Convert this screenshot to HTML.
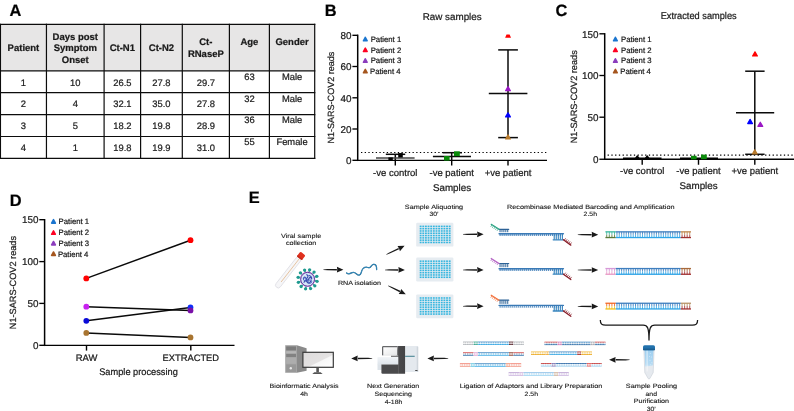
<!DOCTYPE html>
<html><head><meta charset="utf-8"><title>Figure</title>
<style>
html,body{margin:0;padding:0;background:#fff;}
body{width:794px;height:411px;overflow:hidden;font-family:"Liberation Sans", sans-serif;}
svg{display:block;font-family:"Liberation Sans", sans-serif;will-change:transform;opacity:0.999;}
svg text{font-family:"Liberation Sans", sans-serif;fill:#1a1a1a;text-rendering:geometricPrecision;stroke:#1a1a1a;stroke-width:0.22px;}
svg text.e{stroke:#222;stroke-width:0.12px;fill:#222;}
</style></head><body>
<svg width="794" height="411" viewBox="0 0 794 411">
<rect width="794" height="411" fill="#ffffff"/>
<text x="9.6" y="16.3" font-size="16.4" text-anchor="start" font-weight="bold" style="fill:#000">A</text>
<text x="324.8" y="16.0" font-size="16.4" text-anchor="start" font-weight="bold" style="fill:#000">B</text>
<text x="555.6" y="16.0" font-size="16.4" text-anchor="start" font-weight="bold" style="fill:#000">C</text>
<text x="9.8" y="205.8" font-size="16.4" text-anchor="start" font-weight="bold" style="fill:#000">D</text>
<text x="248.8" y="203.0" font-size="16.4" text-anchor="start" font-weight="bold" style="fill:#000">E</text>
<rect x="0.45" y="24.3" width="314.25" height="46.5" fill="#e7e6e6"/>
<line x1="0.45" y1="23.7" x2="0.45" y2="159.0" stroke="#0c0c0c" stroke-width="1.2"/>
<line x1="46.45" y1="23.7" x2="46.45" y2="159.0" stroke="#0c0c0c" stroke-width="1.2"/>
<line x1="104.1" y1="23.7" x2="104.1" y2="159.0" stroke="#0c0c0c" stroke-width="1.2"/>
<line x1="140.6" y1="23.7" x2="140.6" y2="159.0" stroke="#0c0c0c" stroke-width="1.2"/>
<line x1="182.3" y1="23.7" x2="182.3" y2="159.0" stroke="#0c0c0c" stroke-width="1.2"/>
<line x1="229.4" y1="23.7" x2="229.4" y2="159.0" stroke="#0c0c0c" stroke-width="1.2"/>
<line x1="269.4" y1="23.7" x2="269.4" y2="159.0" stroke="#0c0c0c" stroke-width="1.2"/>
<line x1="314.7" y1="23.7" x2="314.7" y2="159.0" stroke="#0c0c0c" stroke-width="1.2"/>
<line x1="-0.14999999999999997" y1="24.3" x2="315.3" y2="24.3" stroke="#0c0c0c" stroke-width="1.2"/>
<line x1="-0.14999999999999997" y1="70.8" x2="315.3" y2="70.8" stroke="#0c0c0c" stroke-width="1.2"/>
<line x1="-0.14999999999999997" y1="92.7" x2="315.3" y2="92.7" stroke="#0c0c0c" stroke-width="1.2"/>
<line x1="-0.14999999999999997" y1="114.6" x2="315.3" y2="114.6" stroke="#0c0c0c" stroke-width="1.2"/>
<line x1="-0.14999999999999997" y1="136.5" x2="315.3" y2="136.5" stroke="#0c0c0c" stroke-width="1.2"/>
<line x1="-0.14999999999999997" y1="158.4" x2="315.3" y2="158.4" stroke="#0c0c0c" stroke-width="1.2"/>
<text x="23.450000000000003" y="51.2" font-size="9.5" text-anchor="middle" font-weight="bold">Patient</text>
<text x="75.275" y="40.3" font-size="9.5" text-anchor="middle" font-weight="bold">Days post</text>
<text x="75.275" y="51.4" font-size="9.5" text-anchor="middle" font-weight="bold">Symptom</text>
<text x="75.275" y="62.6" font-size="9.5" text-anchor="middle" font-weight="bold">Onset</text>
<text x="122.35" y="51.2" font-size="9.5" text-anchor="middle" font-weight="bold">Ct-N1</text>
<text x="161.45" y="51.2" font-size="9.5" text-anchor="middle" font-weight="bold">Ct-N2</text>
<text x="205.85000000000002" y="45.0" font-size="9.5" text-anchor="middle" font-weight="bold">Ct-</text>
<text x="205.85000000000002" y="56.6" font-size="9.5" text-anchor="middle" font-weight="bold">RNaseP</text>
<text x="249.39999999999998" y="45.0" font-size="9.5" text-anchor="middle" font-weight="bold">Age</text>
<text x="292.04999999999995" y="45.0" font-size="9.5" text-anchor="middle" font-weight="bold">Gender</text>
<text x="23.450000000000003" y="85.5" font-size="9.4" text-anchor="middle">1</text>
<text x="75.275" y="85.5" font-size="9.4" text-anchor="middle">10</text>
<text x="122.35" y="85.5" font-size="9.4" text-anchor="middle">26.5</text>
<text x="161.45" y="85.5" font-size="9.4" text-anchor="middle">27.8</text>
<text x="205.85000000000002" y="85.5" font-size="9.4" text-anchor="middle">29.7</text>
<text x="249.39999999999998" y="79.6" font-size="9.4" text-anchor="middle">63</text>
<text x="292.04999999999995" y="79.6" font-size="9.4" text-anchor="middle">Male</text>
<text x="23.450000000000003" y="107.4" font-size="9.4" text-anchor="middle">2</text>
<text x="75.275" y="107.4" font-size="9.4" text-anchor="middle">4</text>
<text x="122.35" y="107.4" font-size="9.4" text-anchor="middle">32.1</text>
<text x="161.45" y="107.4" font-size="9.4" text-anchor="middle">35.0</text>
<text x="205.85000000000002" y="107.4" font-size="9.4" text-anchor="middle">27.8</text>
<text x="249.39999999999998" y="101.5" font-size="9.4" text-anchor="middle">32</text>
<text x="292.04999999999995" y="101.5" font-size="9.4" text-anchor="middle">Male</text>
<text x="23.450000000000003" y="129.3" font-size="9.4" text-anchor="middle">3</text>
<text x="75.275" y="129.3" font-size="9.4" text-anchor="middle">5</text>
<text x="122.35" y="129.3" font-size="9.4" text-anchor="middle">18.2</text>
<text x="161.45" y="129.3" font-size="9.4" text-anchor="middle">19.8</text>
<text x="205.85000000000002" y="129.3" font-size="9.4" text-anchor="middle">28.9</text>
<text x="249.39999999999998" y="123.4" font-size="9.4" text-anchor="middle">36</text>
<text x="292.04999999999995" y="123.4" font-size="9.4" text-anchor="middle">Male</text>
<text x="23.450000000000003" y="151.2" font-size="9.4" text-anchor="middle">4</text>
<text x="75.275" y="151.2" font-size="9.4" text-anchor="middle">1</text>
<text x="122.35" y="151.2" font-size="9.4" text-anchor="middle">19.8</text>
<text x="161.45" y="151.2" font-size="9.4" text-anchor="middle">19.9</text>
<text x="205.85000000000002" y="151.2" font-size="9.4" text-anchor="middle">31.0</text>
<text x="249.39999999999998" y="145.29999999999998" font-size="9.4" text-anchor="middle">55</text>
<text x="292.04999999999995" y="145.29999999999998" font-size="9.4" text-anchor="middle">Female</text>
<line x1="357.7" y1="34.599999999999994" x2="357.7" y2="161.05" stroke="#000" stroke-width="1.5"/>
<line x1="352.4" y1="35.3" x2="357.7" y2="35.3" stroke="#000" stroke-width="1.35"/>
<text x="351.5" y="39.0" font-size="9.9" text-anchor="end">80</text>
<line x1="352.4" y1="66.5" x2="357.7" y2="66.5" stroke="#000" stroke-width="1.35"/>
<text x="351.5" y="70.2" font-size="9.9" text-anchor="end">60</text>
<line x1="352.4" y1="97.8" x2="357.7" y2="97.8" stroke="#000" stroke-width="1.35"/>
<text x="351.5" y="101.5" font-size="9.9" text-anchor="end">40</text>
<line x1="352.4" y1="129.0" x2="357.7" y2="129.0" stroke="#000" stroke-width="1.35"/>
<text x="351.5" y="132.7" font-size="9.9" text-anchor="end">20</text>
<line x1="352.4" y1="160.3" x2="357.7" y2="160.3" stroke="#000" stroke-width="1.35"/>
<text x="351.5" y="164.0" font-size="9.9" text-anchor="end">0</text>
<line x1="356.95" y1="160.3" x2="547" y2="160.3" stroke="#000" stroke-width="1.35"/>
<text transform="translate(333.6,97.6) rotate(-90)" font-size="9.0" text-anchor="middle" textLength="92" lengthAdjust="spacingAndGlyphs">N1-SARS-COV2 reads</text>
<text x="452.2" y="19.6" font-size="9.8" text-anchor="middle" textLength="59" lengthAdjust="spacingAndGlyphs">Raw samples</text>
<path d="M363.40 40.75 L367.20 40.75 L365.30 37.25 Z" fill="#1a75cf" stroke="#1a75cf" stroke-width="1.5" stroke-linejoin="round"/>
<text x="370.7" y="41.8" font-size="7.8" text-anchor="start" textLength="30.5" lengthAdjust="spacingAndGlyphs">Patient 1</text>
<path d="M363.40 51.55 L367.20 51.55 L365.30 48.05 Z" fill="#ff0022" stroke="#ff0022" stroke-width="1.5" stroke-linejoin="round"/>
<text x="370.7" y="52.6" font-size="7.8" text-anchor="start" textLength="30.5" lengthAdjust="spacingAndGlyphs">Patient 2</text>
<path d="M363.40 62.25 L367.20 62.25 L365.30 58.75 Z" fill="#8b3dbd" stroke="#8b3dbd" stroke-width="1.5" stroke-linejoin="round"/>
<text x="370.7" y="63.3" font-size="7.8" text-anchor="start" textLength="30.5" lengthAdjust="spacingAndGlyphs">Patient 3</text>
<path d="M363.40 72.85 L367.20 72.85 L365.30 69.35 Z" fill="#a5561e" stroke="#a5561e" stroke-width="1.5" stroke-linejoin="round"/>
<text x="370.0" y="73.9" font-size="7.8" text-anchor="start" textLength="30.5" lengthAdjust="spacingAndGlyphs">Patient 4</text>
<line x1="361.0" y1="152.5" x2="547" y2="152.5" stroke="#000" stroke-width="1.2" stroke-dasharray="1.3 2.38"/>
<line x1="395.3" y1="160.3" x2="395.3" y2="165.60000000000002" stroke="#000" stroke-width="1.4"/>
<text x="395.3" y="175.6" font-size="9.5" text-anchor="middle">-ve control</text>
<line x1="451.7" y1="160.3" x2="451.7" y2="165.60000000000002" stroke="#000" stroke-width="1.4"/>
<text x="451.7" y="175.6" font-size="9.5" text-anchor="middle">-ve patient</text>
<line x1="508" y1="160.3" x2="508" y2="165.60000000000002" stroke="#000" stroke-width="1.4"/>
<text x="508" y="175.6" font-size="9.5" text-anchor="middle">+ve patient</text>
<text x="452" y="190.6" font-size="9.8" text-anchor="middle">Samples</text>
<line x1="395.3" y1="154.3" x2="395.3" y2="160" stroke="#0a0a0a" stroke-width="1.5"/>
<line x1="385.8" y1="154.3" x2="405.2" y2="154.3" stroke="#0a0a0a" stroke-width="1.5"/>
<line x1="376" y1="158" x2="414.6" y2="158" stroke="#444" stroke-width="1.4"/>
<rect x="398.2" y="153.1" width="4.6" height="4.4" fill="#000"/>
<rect x="388.4" y="157.4" width="4.4" height="2.8" fill="#000"/>
<line x1="451.7" y1="152.7" x2="451.7" y2="160" stroke="#0a0a0a" stroke-width="1.5"/>
<line x1="442.6" y1="152.7" x2="462" y2="152.7" stroke="#0a0a0a" stroke-width="1.5"/>
<line x1="432.9" y1="156.6" x2="471" y2="156.6" stroke="#0a0a0a" stroke-width="1.5"/>
<rect x="454" y="151.3" width="5.8" height="4.8" fill="#0a8a0a"/>
<rect x="444" y="156.0" width="5.6" height="4.6" fill="#0a8a0a"/>
<line x1="508" y1="49.9" x2="508" y2="137.6" stroke="#0a0a0a" stroke-width="1.5"/>
<line x1="498.2" y1="49.9" x2="517.9" y2="49.9" stroke="#0a0a0a" stroke-width="1.5"/>
<line x1="488.8" y1="93.6" x2="527.4" y2="93.6" stroke="#0a0a0a" stroke-width="1.5"/>
<line x1="498.2" y1="137.6" x2="517.9" y2="137.6" stroke="#0a0a0a" stroke-width="1.5"/>
<path d="M505.1 37.8 L511 37.8 L509.6 34.6 L506.5 34.6 Z" fill="#ff0000"/>
<path d="M505.60 90.70 L510.40 90.70 L508.00 86.50 Z" fill="#9a18c4" stroke="#9a18c4" stroke-width="1.2" stroke-linejoin="round"/>
<path d="M505.60 116.90 L510.40 116.90 L508.00 112.70 Z" fill="#0000ff" stroke="#0000ff" stroke-width="1.2" stroke-linejoin="round"/>
<path d="M505.60 139.00 L510.40 139.00 L508.00 134.80 Z" fill="#b87a2c" stroke="#b87a2c" stroke-width="1.2" stroke-linejoin="round"/>
<line x1="604.7" y1="33.099999999999994" x2="604.7" y2="160.0" stroke="#000" stroke-width="1.5"/>
<line x1="599.4000000000001" y1="33.8" x2="604.7" y2="33.8" stroke="#000" stroke-width="1.35"/>
<text x="598.5" y="37.5" font-size="9.9" text-anchor="end">150</text>
<line x1="599.4000000000001" y1="75.5" x2="604.7" y2="75.5" stroke="#000" stroke-width="1.35"/>
<text x="598.5" y="79.2" font-size="9.9" text-anchor="end">100</text>
<line x1="599.4000000000001" y1="117.2" x2="604.7" y2="117.2" stroke="#000" stroke-width="1.35"/>
<text x="598.5" y="120.9" font-size="9.9" text-anchor="end">50</text>
<line x1="599.4000000000001" y1="159.25" x2="604.7" y2="159.25" stroke="#000" stroke-width="1.35"/>
<text x="598.5" y="162.95" font-size="9.9" text-anchor="end">0</text>
<line x1="603.95" y1="159.25" x2="794" y2="159.25" stroke="#000" stroke-width="1.4"/>
<text transform="translate(576.8,96.8) rotate(-90)" font-size="9.1" text-anchor="middle" textLength="93" lengthAdjust="spacingAndGlyphs">N1-SARS-COV2 reads</text>
<text x="698.7" y="19.4" font-size="9.8" text-anchor="middle" textLength="76" lengthAdjust="spacingAndGlyphs">Extracted samples</text>
<path d="M613.50 40.75 L617.30 40.75 L615.40 37.25 Z" fill="#1a75cf" stroke="#1a75cf" stroke-width="1.5" stroke-linejoin="round"/>
<text x="621.0" y="41.8" font-size="7.8" text-anchor="start" textLength="30.5" lengthAdjust="spacingAndGlyphs">Patient 1</text>
<path d="M613.50 51.55 L617.30 51.55 L615.40 48.05 Z" fill="#ff0022" stroke="#ff0022" stroke-width="1.5" stroke-linejoin="round"/>
<text x="621.0" y="52.6" font-size="7.8" text-anchor="start" textLength="30.5" lengthAdjust="spacingAndGlyphs">Patient 2</text>
<path d="M613.50 62.25 L617.30 62.25 L615.40 58.75 Z" fill="#8b3dbd" stroke="#8b3dbd" stroke-width="1.5" stroke-linejoin="round"/>
<text x="621.0" y="63.3" font-size="7.8" text-anchor="start" textLength="30.5" lengthAdjust="spacingAndGlyphs">Patient 3</text>
<path d="M613.50 72.85 L617.30 72.85 L615.40 69.35 Z" fill="#a5561e" stroke="#a5561e" stroke-width="1.5" stroke-linejoin="round"/>
<text x="620.3" y="73.9" font-size="7.8" text-anchor="start" textLength="30.5" lengthAdjust="spacingAndGlyphs">Patient 4</text>
<line x1="607.6" y1="155.2" x2="794" y2="155.2" stroke="#000" stroke-width="1.2" stroke-dasharray="1.3 2.45"/>
<line x1="642.2" y1="159.25" x2="642.2" y2="164.75" stroke="#000" stroke-width="1.4"/>
<text x="642.2" y="173.8" font-size="9.5" text-anchor="middle">-ve control</text>
<line x1="698.5" y1="159.25" x2="698.5" y2="164.75" stroke="#000" stroke-width="1.4"/>
<text x="698.5" y="173.8" font-size="9.5" text-anchor="middle">-ve patient</text>
<line x1="754.8" y1="159.25" x2="754.8" y2="164.75" stroke="#000" stroke-width="1.4"/>
<text x="754.8" y="173.8" font-size="9.5" text-anchor="middle">+ve patient</text>
<text x="698.6" y="188.9" font-size="9.8" text-anchor="middle">Samples</text>
<line x1="623" y1="158.2" x2="661.5" y2="158.2" stroke="#000" stroke-width="1.4"/>
<path d="M635.70 158.10 L638.90 158.10 L637.30 155.90 Z" fill="#000" stroke="#000" stroke-width="1.2" stroke-linejoin="round"/>
<path d="M645.60 158.10 L648.80 158.10 L647.20 155.90 Z" fill="#000" stroke="#000" stroke-width="1.2" stroke-linejoin="round"/>
<line x1="680" y1="158.2" x2="718" y2="158.2" stroke="#000" stroke-width="1.4"/>
<rect x="691" y="155.8" width="5.6" height="3.6" fill="#0a8a0a"/>
<rect x="701" y="154.6" width="5.8" height="4.6" fill="#0a8a0a"/>
<line x1="754.8" y1="71.2" x2="754.8" y2="154.3" stroke="#0a0a0a" stroke-width="1.5"/>
<line x1="745.2" y1="71.2" x2="764.6" y2="71.2" stroke="#0a0a0a" stroke-width="1.5"/>
<line x1="736" y1="112.7" x2="774.2" y2="112.7" stroke="#0a0a0a" stroke-width="1.5"/>
<line x1="745.2" y1="154.3" x2="764.6" y2="154.3" stroke="#0a0a0a" stroke-width="1.5"/>
<path d="M752.60 56.00 L757.40 56.00 L755.00 51.80 Z" fill="#ff0000" stroke="#ff0000" stroke-width="1.2" stroke-linejoin="round"/>
<path d="M747.70 123.60 L752.50 123.60 L750.10 119.40 Z" fill="#0000ff" stroke="#0000ff" stroke-width="1.2" stroke-linejoin="round"/>
<path d="M757.90 126.40 L762.70 126.40 L760.30 122.20 Z" fill="#9a18c4" stroke="#9a18c4" stroke-width="1.2" stroke-linejoin="round"/>
<path d="M752.40 154.00 L757.20 154.00 L754.80 149.80 Z" fill="#b87a2c" stroke="#b87a2c" stroke-width="1.2" stroke-linejoin="round"/>
<line x1="44.6" y1="219.0" x2="44.6" y2="346.05" stroke="#000" stroke-width="1.5"/>
<line x1="39.300000000000004" y1="219.7" x2="44.6" y2="219.7" stroke="#000" stroke-width="1.35"/>
<text x="38.4" y="223.39999999999998" font-size="9.9" text-anchor="end">150</text>
<line x1="39.300000000000004" y1="261.6" x2="44.6" y2="261.6" stroke="#000" stroke-width="1.35"/>
<text x="38.4" y="265.3" font-size="9.9" text-anchor="end">100</text>
<line x1="39.300000000000004" y1="303.4" x2="44.6" y2="303.4" stroke="#000" stroke-width="1.35"/>
<text x="38.4" y="307.09999999999997" font-size="9.9" text-anchor="end">50</text>
<line x1="39.300000000000004" y1="345.3" x2="44.6" y2="345.3" stroke="#000" stroke-width="1.35"/>
<text x="38.4" y="349.0" font-size="9.9" text-anchor="end">0</text>
<line x1="43.85" y1="345.3" x2="234.5" y2="345.3" stroke="#000" stroke-width="1.35"/>
<text transform="translate(16.2,282.6) rotate(-90)" font-size="9.1" text-anchor="middle" textLength="93.2" lengthAdjust="spacingAndGlyphs">N1-SARS-COV2 reads</text>
<path d="M51.60 223.15 L55.40 223.15 L53.50 219.65 Z" fill="#1a75cf" stroke="#1a75cf" stroke-width="1.5" stroke-linejoin="round"/>
<text x="58.6" y="224.2" font-size="7.8" text-anchor="start" textLength="30.5" lengthAdjust="spacingAndGlyphs">Patient 1</text>
<path d="M51.60 234.35 L55.40 234.35 L53.50 230.85 Z" fill="#ff0022" stroke="#ff0022" stroke-width="1.5" stroke-linejoin="round"/>
<text x="58.6" y="235.4" font-size="7.8" text-anchor="start" textLength="30.5" lengthAdjust="spacingAndGlyphs">Patient 2</text>
<path d="M51.60 244.95 L55.40 244.95 L53.50 241.45 Z" fill="#8b3dbd" stroke="#8b3dbd" stroke-width="1.5" stroke-linejoin="round"/>
<text x="58.6" y="246.0" font-size="7.8" text-anchor="start" textLength="30.5" lengthAdjust="spacingAndGlyphs">Patient 3</text>
<path d="M51.60 255.45 L55.40 255.45 L53.50 251.95 Z" fill="#a5561e" stroke="#a5561e" stroke-width="1.5" stroke-linejoin="round"/>
<text x="57.9" y="256.5" font-size="7.8" text-anchor="start" textLength="30.5" lengthAdjust="spacingAndGlyphs">Patient 4</text>
<line x1="86.5" y1="345.3" x2="86.5" y2="350.6" stroke="#000" stroke-width="1.4"/>
<text x="86.5" y="361" font-size="9.3" text-anchor="middle" textLength="21.7" lengthAdjust="spacingAndGlyphs">RAW</text>
<line x1="190.8" y1="345.3" x2="190.8" y2="350.6" stroke="#000" stroke-width="1.4"/>
<text x="190.8" y="361" font-size="9.3" text-anchor="middle" textLength="56.6" lengthAdjust="spacingAndGlyphs">EXTRACTED</text>
<text x="138.5" y="375.2" font-size="9.6" text-anchor="middle" textLength="78.6" lengthAdjust="spacingAndGlyphs">Sample processing</text>
<line x1="86.3" y1="278.4" x2="190.5" y2="240.2" stroke="#0a0a0a" stroke-width="1.5"/>
<line x1="86.3" y1="306.7" x2="190.5" y2="310.4" stroke="#0a0a0a" stroke-width="1.5"/>
<line x1="86.3" y1="320.8" x2="190.5" y2="307.5" stroke="#0a0a0a" stroke-width="1.5"/>
<line x1="86.3" y1="332.9" x2="190.5" y2="337.4" stroke="#0a0a0a" stroke-width="1.5"/>
<circle cx="86.3" cy="278.4" r="2.9" fill="#ff0000"/>
<circle cx="86.3" cy="332.9" r="2.9" fill="#a87430"/>
<circle cx="86.3" cy="306.7" r="2.9" fill="#c822f0"/>
<circle cx="86.3" cy="320.8" r="2.9" fill="#0a0ad8"/>
<circle cx="190.5" cy="240.2" r="2.9" fill="#ff0000"/>
<circle cx="190.5" cy="337.4" r="2.9" fill="#a87430"/>
<circle cx="190.5" cy="307.5" r="2.9" fill="#1030f8"/>
<circle cx="190.5" cy="310.4" r="2.9" fill="#7a10a8"/>
<text x="301.1" y="238.0" font-size="6.2" text-anchor="middle" textLength="40.3" lengthAdjust="spacingAndGlyphs" class="e">Viral sample</text>
<text x="301.1" y="244.8" font-size="6.2" text-anchor="middle" textLength="30.4" lengthAdjust="spacingAndGlyphs" class="e">collection</text>
<text x="359.4" y="285.1" font-size="6.2" text-anchor="middle" textLength="43" lengthAdjust="spacingAndGlyphs" class="e">RNA isolation</text>
<text x="434.0" y="209.0" font-size="6.2" text-anchor="middle" textLength="58.3" lengthAdjust="spacingAndGlyphs" class="e">Sample Aliquoting</text>
<text x="434.0" y="216.1" font-size="6.2" text-anchor="middle" textLength="9.2" lengthAdjust="spacingAndGlyphs" class="e">30’</text>
<text x="590.8" y="208.7" font-size="6.2" text-anchor="middle" textLength="167.5" lengthAdjust="spacingAndGlyphs" class="e">Recombinase Mediated Barcoding and Amplification</text>
<text x="590.3" y="215.9" font-size="6.2" text-anchor="middle" textLength="13.42" lengthAdjust="spacingAndGlyphs" class="e">2.5h</text>
<text x="651.5" y="387.9" font-size="6.2" text-anchor="middle" textLength="51.3" lengthAdjust="spacingAndGlyphs" class="e">Sample Pooling</text>
<text x="651.3" y="395.9" font-size="6.2" text-anchor="middle" textLength="11.51" lengthAdjust="spacingAndGlyphs" class="e">and</text>
<text x="651.4" y="403.4" font-size="6.2" text-anchor="middle" textLength="35.4" lengthAdjust="spacingAndGlyphs" class="e">Purification</text>
<text x="651.3" y="411.3" font-size="6.2" text-anchor="middle" textLength="9.2" lengthAdjust="spacingAndGlyphs" class="e">30’</text>
<text x="531.0" y="388.1" font-size="6.2" text-anchor="middle" textLength="142.6" lengthAdjust="spacingAndGlyphs" class="e">Ligation of Adaptors and Library Preparation</text>
<text x="531.3" y="395.5" font-size="6.2" text-anchor="middle" textLength="13.42" lengthAdjust="spacingAndGlyphs" class="e">2.5h</text>
<text x="393.1" y="388.0" font-size="6.2" text-anchor="middle" textLength="52.2" lengthAdjust="spacingAndGlyphs" class="e">Next Generation</text>
<text x="393.2" y="395.7" font-size="6.2" text-anchor="middle" textLength="37.3" lengthAdjust="spacingAndGlyphs" class="e">Sequencing</text>
<text x="393.5" y="403.5" font-size="6.2" text-anchor="middle" textLength="17.64" lengthAdjust="spacingAndGlyphs" class="e">4-18h</text>
<text x="304.1" y="388.1" font-size="6.2" text-anchor="middle" textLength="69" lengthAdjust="spacingAndGlyphs" class="e">Bioinformatic Analysis</text>
<text x="304.0" y="395.6" font-size="6.2" text-anchor="middle" textLength="7.67" lengthAdjust="spacingAndGlyphs" class="e">4h</text>
<path d="M323.40 269.95 L327.40 270.30 L336.90 270.45 L336.90 268.95 L327.40 269.10 L323.40 269.45 Z" fill="#1a1a1a"/>
<path d="M343.40 269.70 L336.90 272.55 L337.25 269.70 L336.90 266.85 Z" fill="#1a1a1a"/>
<path d="M386.51 254.63 L390.27 253.23 L399.04 249.26 L398.40 247.90 L389.76 252.15 L386.29 254.17 Z" fill="#1a1a1a"/>
<path d="M404.60 245.80 L399.94 251.15 L399.04 248.43 L397.51 246.00 Z" fill="#1a1a1a"/>
<path d="M385.00 270.15 L389.00 270.50 L398.40 270.65 L398.40 269.15 L389.00 269.30 L385.00 269.65 Z" fill="#1a1a1a"/>
<path d="M404.90 269.90 L398.40 272.75 L398.75 269.90 L398.40 267.05 Z" fill="#1a1a1a"/>
<path d="M388.09 286.03 L391.54 288.08 L399.62 292.15 L400.27 290.80 L392.06 287.00 L388.31 285.57 Z" fill="#1a1a1a"/>
<path d="M405.80 294.30 L398.71 294.04 L400.26 291.63 L401.19 288.91 Z" fill="#1a1a1a"/>
<path d="M463.00 234.55 L467.00 234.90 L477.10 235.05 L477.10 233.55 L467.00 233.70 L463.00 234.05 Z" fill="#1a1a1a"/>
<path d="M483.60 234.30 L477.10 237.15 L477.45 234.30 L477.10 231.45 Z" fill="#1a1a1a"/>
<path d="M463.00 270.15 L467.00 270.50 L477.10 270.65 L477.10 269.15 L467.00 269.30 L463.00 269.65 Z" fill="#1a1a1a"/>
<path d="M483.60 269.90 L477.10 272.75 L477.45 269.90 L477.10 267.05 Z" fill="#1a1a1a"/>
<path d="M463.00 306.45 L467.00 306.80 L477.10 306.95 L477.10 305.45 L467.00 305.60 L463.00 305.95 Z" fill="#1a1a1a"/>
<path d="M483.60 306.20 L477.10 309.05 L477.45 306.20 L477.10 303.35 Z" fill="#1a1a1a"/>
<path d="M577.80 234.95 L581.80 235.30 L591.70 235.45 L591.70 233.95 L581.80 234.10 L577.80 234.45 Z" fill="#1a1a1a"/>
<path d="M598.20 234.70 L591.70 237.55 L592.05 234.70 L591.70 231.85 Z" fill="#1a1a1a"/>
<path d="M577.80 270.25 L581.80 270.60 L591.70 270.75 L591.70 269.25 L581.80 269.40 L577.80 269.75 Z" fill="#1a1a1a"/>
<path d="M598.20 270.00 L591.70 272.85 L592.05 270.00 L591.70 267.15 Z" fill="#1a1a1a"/>
<path d="M577.80 306.65 L581.80 307.00 L591.70 307.15 L591.70 305.65 L581.80 305.80 L577.80 306.15 Z" fill="#1a1a1a"/>
<path d="M598.20 306.40 L591.70 309.25 L592.05 306.40 L591.70 303.55 Z" fill="#1a1a1a"/>
<path d="M629.60 359.55 L625.60 359.20 L615.60 359.05 L615.60 360.55 L625.60 360.40 L629.60 360.05 Z" fill="#1a1a1a"/>
<path d="M609.10 359.80 L615.60 356.95 L615.25 359.80 L615.60 362.65 Z" fill="#1a1a1a"/>
<path d="M448.20 358.15 L444.20 357.80 L433.90 357.65 L433.90 359.15 L444.20 359.00 L448.20 358.65 Z" fill="#1a1a1a"/>
<path d="M427.40 358.40 L433.90 355.55 L433.55 358.40 L433.90 361.25 Z" fill="#1a1a1a"/>
<path d="M372.20 358.15 L368.20 357.80 L357.70 357.65 L357.70 359.15 L368.20 359.00 L372.20 358.65 Z" fill="#1a1a1a"/>
<path d="M351.20 358.40 L357.70 355.55 L357.35 358.40 L357.70 361.25 Z" fill="#1a1a1a"/>
<g transform="translate(301.2,255.8) rotate(38)">
<rect x="-2.7" y="2" width="5.4" height="38.0" rx="2.7" fill="#f6f6f8" stroke="#dedee3" stroke-width="0.8"/>
<line x1="0.3" y1="3" x2="0.3" y2="33" stroke="#e6c3a0" stroke-width="0.9"/>
<rect x="-3.2" y="-2.9" width="6.4" height="6.0" rx="1.3" fill="#e0301e"/>
<rect x="-3.2" y="1.6" width="6.4" height="1.5" rx="0.6" fill="#c42a1a"/>
</g>
<line x1="314.74" y1="280.82" x2="317.09" y2="281.32" stroke="#1f9a90" stroke-width="1.5"/>
<circle cx="317.09" cy="281.32" r="1.65" fill="#1f9a90"/>
<line x1="313.02" y1="284.18" x2="314.81" y2="285.79" stroke="#1f9a90" stroke-width="1.5"/>
<circle cx="314.81" cy="285.79" r="1.65" fill="#1f9a90"/>
<line x1="309.86" y1="286.24" x2="310.60" y2="288.53" stroke="#1f9a90" stroke-width="1.5"/>
<circle cx="310.60" cy="288.53" r="1.65" fill="#1f9a90"/>
<line x1="306.08" y1="286.44" x2="305.58" y2="288.79" stroke="#1f9a90" stroke-width="1.5"/>
<circle cx="305.58" cy="288.79" r="1.65" fill="#1f9a90"/>
<line x1="302.72" y1="284.72" x2="301.11" y2="286.51" stroke="#1f9a90" stroke-width="1.5"/>
<circle cx="301.11" cy="286.51" r="1.65" fill="#1f9a90"/>
<line x1="300.66" y1="281.56" x2="298.37" y2="282.30" stroke="#1f9a90" stroke-width="1.5"/>
<circle cx="298.37" cy="282.30" r="1.65" fill="#1f9a90"/>
<line x1="300.46" y1="277.78" x2="298.11" y2="277.28" stroke="#1f9a90" stroke-width="1.5"/>
<circle cx="298.11" cy="277.28" r="1.65" fill="#1f9a90"/>
<line x1="302.18" y1="274.42" x2="300.39" y2="272.81" stroke="#1f9a90" stroke-width="1.5"/>
<circle cx="300.39" cy="272.81" r="1.65" fill="#1f9a90"/>
<line x1="305.34" y1="272.36" x2="304.60" y2="270.07" stroke="#1f9a90" stroke-width="1.5"/>
<circle cx="304.60" cy="270.07" r="1.65" fill="#1f9a90"/>
<line x1="309.12" y1="272.16" x2="309.62" y2="269.81" stroke="#1f9a90" stroke-width="1.5"/>
<circle cx="309.62" cy="269.81" r="1.65" fill="#1f9a90"/>
<line x1="312.48" y1="273.88" x2="314.09" y2="272.09" stroke="#1f9a90" stroke-width="1.5"/>
<circle cx="314.09" cy="272.09" r="1.65" fill="#1f9a90"/>
<line x1="314.54" y1="277.04" x2="316.83" y2="276.30" stroke="#1f9a90" stroke-width="1.5"/>
<circle cx="316.83" cy="276.30" r="1.65" fill="#1f9a90"/>
<circle cx="307.6" cy="279.3" r="7.7" fill="#d9a6d6" />
<circle cx="307.6" cy="279.3" r="6.9" fill="#d6e6f8" stroke="#5f319e" stroke-width="1.0"/>
<path d="M303.40000000000003 278.8 q1.2 -3.4 2.8 -0.4 t2.2 1.2 q1.8 -4.2 3.2 -0.6 M304.0 282.3 q2 -3.2 3.6 0 q1.2 2.4 3.2 -1.2 M306.8 274.7 q2.2 1.2 0.2 3.4 q-2.2 2.2 0.8 4.6 M309.1 275.5 q2.5 0.5 2.6 3" fill="none" stroke="#3a4cae" stroke-width="1.15" stroke-linecap="round"/>
<circle cx="310.0" cy="281.6" r="1.7" fill="none" stroke="#4660c0" stroke-width="0.9"/>
<circle cx="304.90000000000003" cy="279.1" r="1.5" fill="none" stroke="#4660c0" stroke-width="0.9"/>
<path d="M346.6 273.0 C348 274.2 350 273.8 351.5 272.9 C353.5 271.7 355 272.6 356.6 274.0 C358.4 275.6 360.4 275.6 361.2 272.6 C362 269.4 363.4 267.4 365.8 267.2 C367.6 267.0 368.6 268.4 370.0 267.4 C371.6 266.2 371.8 264.4 373.6 264.3 C375.6 264.2 376.8 265.6 376.6 269.6" fill="none" stroke="#1c5f88" stroke-width="1.3" stroke-linecap="round"/>
<path d="M346.6 273.0 C348 274.2 350 273.8 351.5 272.9 C353.5 271.7 355 272.6 356.6 274.0 C358.4 275.6 360.4 275.6 361.2 272.6 C362 269.4 363.4 267.4 365.8 267.2 C367.6 267.0 368.6 268.4 370.0 267.4 C371.6 266.2 371.8 264.4 373.6 264.3 C375.6 264.2 376.8 265.6 376.6 269.6" fill="none" stroke="#45a5d8" stroke-width="0.65" stroke-linecap="round"/>
<defs><pattern id="wells" x="419.7" y="225.6" width="2.64" height="2.32" patternUnits="userSpaceOnUse"><rect x="0.25" y="0.25" width="2.0" height="1.7" fill="#2fb4de"/></pattern></defs>
<rect x="416.2" y="222.8" width="37.2" height="23.8" rx="1.2" fill="#e6ecf1"/>
<rect x="419.70" y="225.60" width="1.85" height="1.55" fill="#36b6df"/>
<rect x="422.34" y="225.60" width="1.85" height="1.55" fill="#36b6df"/>
<rect x="424.98" y="225.60" width="1.85" height="1.55" fill="#36b6df"/>
<rect x="427.62" y="225.60" width="1.85" height="1.55" fill="#36b6df"/>
<rect x="430.26" y="225.60" width="1.85" height="1.55" fill="#36b6df"/>
<rect x="432.90" y="225.60" width="1.85" height="1.55" fill="#36b6df"/>
<rect x="435.54" y="225.60" width="1.85" height="1.55" fill="#36b6df"/>
<rect x="438.18" y="225.60" width="1.85" height="1.55" fill="#36b6df"/>
<rect x="440.82" y="225.60" width="1.85" height="1.55" fill="#36b6df"/>
<rect x="443.46" y="225.60" width="1.85" height="1.55" fill="#36b6df"/>
<rect x="446.10" y="225.60" width="1.85" height="1.55" fill="#36b6df"/>
<rect x="448.74" y="225.60" width="1.85" height="1.55" fill="#36b6df"/>
<rect x="419.70" y="227.90" width="1.85" height="1.55" fill="#36b6df"/>
<rect x="422.34" y="227.90" width="1.85" height="1.55" fill="#36b6df"/>
<rect x="424.98" y="227.90" width="1.85" height="1.55" fill="#36b6df"/>
<rect x="427.62" y="227.90" width="1.85" height="1.55" fill="#36b6df"/>
<rect x="430.26" y="227.90" width="1.85" height="1.55" fill="#36b6df"/>
<rect x="432.90" y="227.90" width="1.85" height="1.55" fill="#36b6df"/>
<rect x="435.54" y="227.90" width="1.85" height="1.55" fill="#36b6df"/>
<rect x="438.18" y="227.90" width="1.85" height="1.55" fill="#36b6df"/>
<rect x="440.82" y="227.90" width="1.85" height="1.55" fill="#36b6df"/>
<rect x="443.46" y="227.90" width="1.85" height="1.55" fill="#36b6df"/>
<rect x="446.10" y="227.90" width="1.85" height="1.55" fill="#36b6df"/>
<rect x="448.74" y="227.90" width="1.85" height="1.55" fill="#36b6df"/>
<rect x="419.70" y="230.20" width="1.85" height="1.55" fill="#36b6df"/>
<rect x="422.34" y="230.20" width="1.85" height="1.55" fill="#36b6df"/>
<rect x="424.98" y="230.20" width="1.85" height="1.55" fill="#36b6df"/>
<rect x="427.62" y="230.20" width="1.85" height="1.55" fill="#36b6df"/>
<rect x="430.26" y="230.20" width="1.85" height="1.55" fill="#36b6df"/>
<rect x="432.90" y="230.20" width="1.85" height="1.55" fill="#36b6df"/>
<rect x="435.54" y="230.20" width="1.85" height="1.55" fill="#36b6df"/>
<rect x="438.18" y="230.20" width="1.85" height="1.55" fill="#36b6df"/>
<rect x="440.82" y="230.20" width="1.85" height="1.55" fill="#36b6df"/>
<rect x="443.46" y="230.20" width="1.85" height="1.55" fill="#36b6df"/>
<rect x="446.10" y="230.20" width="1.85" height="1.55" fill="#36b6df"/>
<rect x="448.74" y="230.20" width="1.85" height="1.55" fill="#36b6df"/>
<rect x="419.70" y="232.50" width="1.85" height="1.55" fill="#36b6df"/>
<rect x="422.34" y="232.50" width="1.85" height="1.55" fill="#36b6df"/>
<rect x="424.98" y="232.50" width="1.85" height="1.55" fill="#36b6df"/>
<rect x="427.62" y="232.50" width="1.85" height="1.55" fill="#36b6df"/>
<rect x="430.26" y="232.50" width="1.85" height="1.55" fill="#36b6df"/>
<rect x="432.90" y="232.50" width="1.85" height="1.55" fill="#36b6df"/>
<rect x="435.54" y="232.50" width="1.85" height="1.55" fill="#36b6df"/>
<rect x="438.18" y="232.50" width="1.85" height="1.55" fill="#36b6df"/>
<rect x="440.82" y="232.50" width="1.85" height="1.55" fill="#36b6df"/>
<rect x="443.46" y="232.50" width="1.85" height="1.55" fill="#36b6df"/>
<rect x="446.10" y="232.50" width="1.85" height="1.55" fill="#36b6df"/>
<rect x="448.74" y="232.50" width="1.85" height="1.55" fill="#36b6df"/>
<rect x="419.70" y="234.80" width="1.85" height="1.55" fill="#36b6df"/>
<rect x="422.34" y="234.80" width="1.85" height="1.55" fill="#36b6df"/>
<rect x="424.98" y="234.80" width="1.85" height="1.55" fill="#36b6df"/>
<rect x="427.62" y="234.80" width="1.85" height="1.55" fill="#36b6df"/>
<rect x="430.26" y="234.80" width="1.85" height="1.55" fill="#36b6df"/>
<rect x="432.90" y="234.80" width="1.85" height="1.55" fill="#36b6df"/>
<rect x="435.54" y="234.80" width="1.85" height="1.55" fill="#36b6df"/>
<rect x="438.18" y="234.80" width="1.85" height="1.55" fill="#36b6df"/>
<rect x="440.82" y="234.80" width="1.85" height="1.55" fill="#36b6df"/>
<rect x="443.46" y="234.80" width="1.85" height="1.55" fill="#36b6df"/>
<rect x="446.10" y="234.80" width="1.85" height="1.55" fill="#36b6df"/>
<rect x="448.74" y="234.80" width="1.85" height="1.55" fill="#36b6df"/>
<rect x="419.70" y="237.10" width="1.85" height="1.55" fill="#36b6df"/>
<rect x="422.34" y="237.10" width="1.85" height="1.55" fill="#36b6df"/>
<rect x="424.98" y="237.10" width="1.85" height="1.55" fill="#36b6df"/>
<rect x="427.62" y="237.10" width="1.85" height="1.55" fill="#36b6df"/>
<rect x="430.26" y="237.10" width="1.85" height="1.55" fill="#36b6df"/>
<rect x="432.90" y="237.10" width="1.85" height="1.55" fill="#36b6df"/>
<rect x="435.54" y="237.10" width="1.85" height="1.55" fill="#36b6df"/>
<rect x="438.18" y="237.10" width="1.85" height="1.55" fill="#36b6df"/>
<rect x="440.82" y="237.10" width="1.85" height="1.55" fill="#36b6df"/>
<rect x="443.46" y="237.10" width="1.85" height="1.55" fill="#36b6df"/>
<rect x="446.10" y="237.10" width="1.85" height="1.55" fill="#36b6df"/>
<rect x="448.74" y="237.10" width="1.85" height="1.55" fill="#36b6df"/>
<rect x="419.70" y="239.40" width="1.85" height="1.55" fill="#36b6df"/>
<rect x="422.34" y="239.40" width="1.85" height="1.55" fill="#36b6df"/>
<rect x="424.98" y="239.40" width="1.85" height="1.55" fill="#36b6df"/>
<rect x="427.62" y="239.40" width="1.85" height="1.55" fill="#36b6df"/>
<rect x="430.26" y="239.40" width="1.85" height="1.55" fill="#36b6df"/>
<rect x="432.90" y="239.40" width="1.85" height="1.55" fill="#36b6df"/>
<rect x="435.54" y="239.40" width="1.85" height="1.55" fill="#36b6df"/>
<rect x="438.18" y="239.40" width="1.85" height="1.55" fill="#36b6df"/>
<rect x="440.82" y="239.40" width="1.85" height="1.55" fill="#36b6df"/>
<rect x="443.46" y="239.40" width="1.85" height="1.55" fill="#36b6df"/>
<rect x="446.10" y="239.40" width="1.85" height="1.55" fill="#36b6df"/>
<rect x="448.74" y="239.40" width="1.85" height="1.55" fill="#36b6df"/>
<rect x="419.70" y="241.70" width="1.85" height="1.55" fill="#36b6df"/>
<rect x="422.34" y="241.70" width="1.85" height="1.55" fill="#36b6df"/>
<rect x="424.98" y="241.70" width="1.85" height="1.55" fill="#36b6df"/>
<rect x="427.62" y="241.70" width="1.85" height="1.55" fill="#36b6df"/>
<rect x="430.26" y="241.70" width="1.85" height="1.55" fill="#36b6df"/>
<rect x="432.90" y="241.70" width="1.85" height="1.55" fill="#36b6df"/>
<rect x="435.54" y="241.70" width="1.85" height="1.55" fill="#36b6df"/>
<rect x="438.18" y="241.70" width="1.85" height="1.55" fill="#36b6df"/>
<rect x="440.82" y="241.70" width="1.85" height="1.55" fill="#36b6df"/>
<rect x="443.46" y="241.70" width="1.85" height="1.55" fill="#36b6df"/>
<rect x="446.10" y="241.70" width="1.85" height="1.55" fill="#36b6df"/>
<rect x="448.74" y="241.70" width="1.85" height="1.55" fill="#36b6df"/>
<rect x="416.2" y="257.6" width="37.2" height="23.8" rx="1.2" fill="#e6ecf1"/>
<rect x="419.70" y="260.40" width="1.85" height="1.55" fill="#36b6df"/>
<rect x="422.34" y="260.40" width="1.85" height="1.55" fill="#36b6df"/>
<rect x="424.98" y="260.40" width="1.85" height="1.55" fill="#36b6df"/>
<rect x="427.62" y="260.40" width="1.85" height="1.55" fill="#36b6df"/>
<rect x="430.26" y="260.40" width="1.85" height="1.55" fill="#36b6df"/>
<rect x="432.90" y="260.40" width="1.85" height="1.55" fill="#36b6df"/>
<rect x="435.54" y="260.40" width="1.85" height="1.55" fill="#36b6df"/>
<rect x="438.18" y="260.40" width="1.85" height="1.55" fill="#36b6df"/>
<rect x="440.82" y="260.40" width="1.85" height="1.55" fill="#36b6df"/>
<rect x="443.46" y="260.40" width="1.85" height="1.55" fill="#36b6df"/>
<rect x="446.10" y="260.40" width="1.85" height="1.55" fill="#36b6df"/>
<rect x="448.74" y="260.40" width="1.85" height="1.55" fill="#36b6df"/>
<rect x="419.70" y="262.70" width="1.85" height="1.55" fill="#36b6df"/>
<rect x="422.34" y="262.70" width="1.85" height="1.55" fill="#36b6df"/>
<rect x="424.98" y="262.70" width="1.85" height="1.55" fill="#36b6df"/>
<rect x="427.62" y="262.70" width="1.85" height="1.55" fill="#36b6df"/>
<rect x="430.26" y="262.70" width="1.85" height="1.55" fill="#36b6df"/>
<rect x="432.90" y="262.70" width="1.85" height="1.55" fill="#36b6df"/>
<rect x="435.54" y="262.70" width="1.85" height="1.55" fill="#36b6df"/>
<rect x="438.18" y="262.70" width="1.85" height="1.55" fill="#36b6df"/>
<rect x="440.82" y="262.70" width="1.85" height="1.55" fill="#36b6df"/>
<rect x="443.46" y="262.70" width="1.85" height="1.55" fill="#36b6df"/>
<rect x="446.10" y="262.70" width="1.85" height="1.55" fill="#36b6df"/>
<rect x="448.74" y="262.70" width="1.85" height="1.55" fill="#36b6df"/>
<rect x="419.70" y="265.00" width="1.85" height="1.55" fill="#36b6df"/>
<rect x="422.34" y="265.00" width="1.85" height="1.55" fill="#36b6df"/>
<rect x="424.98" y="265.00" width="1.85" height="1.55" fill="#36b6df"/>
<rect x="427.62" y="265.00" width="1.85" height="1.55" fill="#36b6df"/>
<rect x="430.26" y="265.00" width="1.85" height="1.55" fill="#36b6df"/>
<rect x="432.90" y="265.00" width="1.85" height="1.55" fill="#36b6df"/>
<rect x="435.54" y="265.00" width="1.85" height="1.55" fill="#36b6df"/>
<rect x="438.18" y="265.00" width="1.85" height="1.55" fill="#36b6df"/>
<rect x="440.82" y="265.00" width="1.85" height="1.55" fill="#36b6df"/>
<rect x="443.46" y="265.00" width="1.85" height="1.55" fill="#36b6df"/>
<rect x="446.10" y="265.00" width="1.85" height="1.55" fill="#36b6df"/>
<rect x="448.74" y="265.00" width="1.85" height="1.55" fill="#36b6df"/>
<rect x="419.70" y="267.30" width="1.85" height="1.55" fill="#36b6df"/>
<rect x="422.34" y="267.30" width="1.85" height="1.55" fill="#36b6df"/>
<rect x="424.98" y="267.30" width="1.85" height="1.55" fill="#36b6df"/>
<rect x="427.62" y="267.30" width="1.85" height="1.55" fill="#36b6df"/>
<rect x="430.26" y="267.30" width="1.85" height="1.55" fill="#36b6df"/>
<rect x="432.90" y="267.30" width="1.85" height="1.55" fill="#36b6df"/>
<rect x="435.54" y="267.30" width="1.85" height="1.55" fill="#36b6df"/>
<rect x="438.18" y="267.30" width="1.85" height="1.55" fill="#36b6df"/>
<rect x="440.82" y="267.30" width="1.85" height="1.55" fill="#36b6df"/>
<rect x="443.46" y="267.30" width="1.85" height="1.55" fill="#36b6df"/>
<rect x="446.10" y="267.30" width="1.85" height="1.55" fill="#36b6df"/>
<rect x="448.74" y="267.30" width="1.85" height="1.55" fill="#36b6df"/>
<rect x="419.70" y="269.60" width="1.85" height="1.55" fill="#36b6df"/>
<rect x="422.34" y="269.60" width="1.85" height="1.55" fill="#36b6df"/>
<rect x="424.98" y="269.60" width="1.85" height="1.55" fill="#36b6df"/>
<rect x="427.62" y="269.60" width="1.85" height="1.55" fill="#36b6df"/>
<rect x="430.26" y="269.60" width="1.85" height="1.55" fill="#36b6df"/>
<rect x="432.90" y="269.60" width="1.85" height="1.55" fill="#36b6df"/>
<rect x="435.54" y="269.60" width="1.85" height="1.55" fill="#36b6df"/>
<rect x="438.18" y="269.60" width="1.85" height="1.55" fill="#36b6df"/>
<rect x="440.82" y="269.60" width="1.85" height="1.55" fill="#36b6df"/>
<rect x="443.46" y="269.60" width="1.85" height="1.55" fill="#36b6df"/>
<rect x="446.10" y="269.60" width="1.85" height="1.55" fill="#36b6df"/>
<rect x="448.74" y="269.60" width="1.85" height="1.55" fill="#36b6df"/>
<rect x="419.70" y="271.90" width="1.85" height="1.55" fill="#36b6df"/>
<rect x="422.34" y="271.90" width="1.85" height="1.55" fill="#36b6df"/>
<rect x="424.98" y="271.90" width="1.85" height="1.55" fill="#36b6df"/>
<rect x="427.62" y="271.90" width="1.85" height="1.55" fill="#36b6df"/>
<rect x="430.26" y="271.90" width="1.85" height="1.55" fill="#36b6df"/>
<rect x="432.90" y="271.90" width="1.85" height="1.55" fill="#36b6df"/>
<rect x="435.54" y="271.90" width="1.85" height="1.55" fill="#36b6df"/>
<rect x="438.18" y="271.90" width="1.85" height="1.55" fill="#36b6df"/>
<rect x="440.82" y="271.90" width="1.85" height="1.55" fill="#36b6df"/>
<rect x="443.46" y="271.90" width="1.85" height="1.55" fill="#36b6df"/>
<rect x="446.10" y="271.90" width="1.85" height="1.55" fill="#36b6df"/>
<rect x="448.74" y="271.90" width="1.85" height="1.55" fill="#36b6df"/>
<rect x="419.70" y="274.20" width="1.85" height="1.55" fill="#36b6df"/>
<rect x="422.34" y="274.20" width="1.85" height="1.55" fill="#36b6df"/>
<rect x="424.98" y="274.20" width="1.85" height="1.55" fill="#36b6df"/>
<rect x="427.62" y="274.20" width="1.85" height="1.55" fill="#36b6df"/>
<rect x="430.26" y="274.20" width="1.85" height="1.55" fill="#36b6df"/>
<rect x="432.90" y="274.20" width="1.85" height="1.55" fill="#36b6df"/>
<rect x="435.54" y="274.20" width="1.85" height="1.55" fill="#36b6df"/>
<rect x="438.18" y="274.20" width="1.85" height="1.55" fill="#36b6df"/>
<rect x="440.82" y="274.20" width="1.85" height="1.55" fill="#36b6df"/>
<rect x="443.46" y="274.20" width="1.85" height="1.55" fill="#36b6df"/>
<rect x="446.10" y="274.20" width="1.85" height="1.55" fill="#36b6df"/>
<rect x="448.74" y="274.20" width="1.85" height="1.55" fill="#36b6df"/>
<rect x="419.70" y="276.50" width="1.85" height="1.55" fill="#36b6df"/>
<rect x="422.34" y="276.50" width="1.85" height="1.55" fill="#36b6df"/>
<rect x="424.98" y="276.50" width="1.85" height="1.55" fill="#36b6df"/>
<rect x="427.62" y="276.50" width="1.85" height="1.55" fill="#36b6df"/>
<rect x="430.26" y="276.50" width="1.85" height="1.55" fill="#36b6df"/>
<rect x="432.90" y="276.50" width="1.85" height="1.55" fill="#36b6df"/>
<rect x="435.54" y="276.50" width="1.85" height="1.55" fill="#36b6df"/>
<rect x="438.18" y="276.50" width="1.85" height="1.55" fill="#36b6df"/>
<rect x="440.82" y="276.50" width="1.85" height="1.55" fill="#36b6df"/>
<rect x="443.46" y="276.50" width="1.85" height="1.55" fill="#36b6df"/>
<rect x="446.10" y="276.50" width="1.85" height="1.55" fill="#36b6df"/>
<rect x="448.74" y="276.50" width="1.85" height="1.55" fill="#36b6df"/>
<rect x="416.2" y="294.4" width="37.2" height="23.8" rx="1.2" fill="#e6ecf1"/>
<rect x="419.70" y="297.20" width="1.85" height="1.55" fill="#36b6df"/>
<rect x="422.34" y="297.20" width="1.85" height="1.55" fill="#36b6df"/>
<rect x="424.98" y="297.20" width="1.85" height="1.55" fill="#36b6df"/>
<rect x="427.62" y="297.20" width="1.85" height="1.55" fill="#36b6df"/>
<rect x="430.26" y="297.20" width="1.85" height="1.55" fill="#36b6df"/>
<rect x="432.90" y="297.20" width="1.85" height="1.55" fill="#36b6df"/>
<rect x="435.54" y="297.20" width="1.85" height="1.55" fill="#36b6df"/>
<rect x="438.18" y="297.20" width="1.85" height="1.55" fill="#36b6df"/>
<rect x="440.82" y="297.20" width="1.85" height="1.55" fill="#36b6df"/>
<rect x="443.46" y="297.20" width="1.85" height="1.55" fill="#36b6df"/>
<rect x="446.10" y="297.20" width="1.85" height="1.55" fill="#36b6df"/>
<rect x="448.74" y="297.20" width="1.85" height="1.55" fill="#36b6df"/>
<rect x="419.70" y="299.50" width="1.85" height="1.55" fill="#36b6df"/>
<rect x="422.34" y="299.50" width="1.85" height="1.55" fill="#36b6df"/>
<rect x="424.98" y="299.50" width="1.85" height="1.55" fill="#36b6df"/>
<rect x="427.62" y="299.50" width="1.85" height="1.55" fill="#36b6df"/>
<rect x="430.26" y="299.50" width="1.85" height="1.55" fill="#36b6df"/>
<rect x="432.90" y="299.50" width="1.85" height="1.55" fill="#36b6df"/>
<rect x="435.54" y="299.50" width="1.85" height="1.55" fill="#36b6df"/>
<rect x="438.18" y="299.50" width="1.85" height="1.55" fill="#36b6df"/>
<rect x="440.82" y="299.50" width="1.85" height="1.55" fill="#36b6df"/>
<rect x="443.46" y="299.50" width="1.85" height="1.55" fill="#36b6df"/>
<rect x="446.10" y="299.50" width="1.85" height="1.55" fill="#36b6df"/>
<rect x="448.74" y="299.50" width="1.85" height="1.55" fill="#36b6df"/>
<rect x="419.70" y="301.80" width="1.85" height="1.55" fill="#36b6df"/>
<rect x="422.34" y="301.80" width="1.85" height="1.55" fill="#36b6df"/>
<rect x="424.98" y="301.80" width="1.85" height="1.55" fill="#36b6df"/>
<rect x="427.62" y="301.80" width="1.85" height="1.55" fill="#36b6df"/>
<rect x="430.26" y="301.80" width="1.85" height="1.55" fill="#36b6df"/>
<rect x="432.90" y="301.80" width="1.85" height="1.55" fill="#36b6df"/>
<rect x="435.54" y="301.80" width="1.85" height="1.55" fill="#36b6df"/>
<rect x="438.18" y="301.80" width="1.85" height="1.55" fill="#36b6df"/>
<rect x="440.82" y="301.80" width="1.85" height="1.55" fill="#36b6df"/>
<rect x="443.46" y="301.80" width="1.85" height="1.55" fill="#36b6df"/>
<rect x="446.10" y="301.80" width="1.85" height="1.55" fill="#36b6df"/>
<rect x="448.74" y="301.80" width="1.85" height="1.55" fill="#36b6df"/>
<rect x="419.70" y="304.10" width="1.85" height="1.55" fill="#36b6df"/>
<rect x="422.34" y="304.10" width="1.85" height="1.55" fill="#36b6df"/>
<rect x="424.98" y="304.10" width="1.85" height="1.55" fill="#36b6df"/>
<rect x="427.62" y="304.10" width="1.85" height="1.55" fill="#36b6df"/>
<rect x="430.26" y="304.10" width="1.85" height="1.55" fill="#36b6df"/>
<rect x="432.90" y="304.10" width="1.85" height="1.55" fill="#36b6df"/>
<rect x="435.54" y="304.10" width="1.85" height="1.55" fill="#36b6df"/>
<rect x="438.18" y="304.10" width="1.85" height="1.55" fill="#36b6df"/>
<rect x="440.82" y="304.10" width="1.85" height="1.55" fill="#36b6df"/>
<rect x="443.46" y="304.10" width="1.85" height="1.55" fill="#36b6df"/>
<rect x="446.10" y="304.10" width="1.85" height="1.55" fill="#36b6df"/>
<rect x="448.74" y="304.10" width="1.85" height="1.55" fill="#36b6df"/>
<rect x="419.70" y="306.40" width="1.85" height="1.55" fill="#36b6df"/>
<rect x="422.34" y="306.40" width="1.85" height="1.55" fill="#36b6df"/>
<rect x="424.98" y="306.40" width="1.85" height="1.55" fill="#36b6df"/>
<rect x="427.62" y="306.40" width="1.85" height="1.55" fill="#36b6df"/>
<rect x="430.26" y="306.40" width="1.85" height="1.55" fill="#36b6df"/>
<rect x="432.90" y="306.40" width="1.85" height="1.55" fill="#36b6df"/>
<rect x="435.54" y="306.40" width="1.85" height="1.55" fill="#36b6df"/>
<rect x="438.18" y="306.40" width="1.85" height="1.55" fill="#36b6df"/>
<rect x="440.82" y="306.40" width="1.85" height="1.55" fill="#36b6df"/>
<rect x="443.46" y="306.40" width="1.85" height="1.55" fill="#36b6df"/>
<rect x="446.10" y="306.40" width="1.85" height="1.55" fill="#36b6df"/>
<rect x="448.74" y="306.40" width="1.85" height="1.55" fill="#36b6df"/>
<rect x="419.70" y="308.70" width="1.85" height="1.55" fill="#36b6df"/>
<rect x="422.34" y="308.70" width="1.85" height="1.55" fill="#36b6df"/>
<rect x="424.98" y="308.70" width="1.85" height="1.55" fill="#36b6df"/>
<rect x="427.62" y="308.70" width="1.85" height="1.55" fill="#36b6df"/>
<rect x="430.26" y="308.70" width="1.85" height="1.55" fill="#36b6df"/>
<rect x="432.90" y="308.70" width="1.85" height="1.55" fill="#36b6df"/>
<rect x="435.54" y="308.70" width="1.85" height="1.55" fill="#36b6df"/>
<rect x="438.18" y="308.70" width="1.85" height="1.55" fill="#36b6df"/>
<rect x="440.82" y="308.70" width="1.85" height="1.55" fill="#36b6df"/>
<rect x="443.46" y="308.70" width="1.85" height="1.55" fill="#36b6df"/>
<rect x="446.10" y="308.70" width="1.85" height="1.55" fill="#36b6df"/>
<rect x="448.74" y="308.70" width="1.85" height="1.55" fill="#36b6df"/>
<rect x="419.70" y="311.00" width="1.85" height="1.55" fill="#36b6df"/>
<rect x="422.34" y="311.00" width="1.85" height="1.55" fill="#36b6df"/>
<rect x="424.98" y="311.00" width="1.85" height="1.55" fill="#36b6df"/>
<rect x="427.62" y="311.00" width="1.85" height="1.55" fill="#36b6df"/>
<rect x="430.26" y="311.00" width="1.85" height="1.55" fill="#36b6df"/>
<rect x="432.90" y="311.00" width="1.85" height="1.55" fill="#36b6df"/>
<rect x="435.54" y="311.00" width="1.85" height="1.55" fill="#36b6df"/>
<rect x="438.18" y="311.00" width="1.85" height="1.55" fill="#36b6df"/>
<rect x="440.82" y="311.00" width="1.85" height="1.55" fill="#36b6df"/>
<rect x="443.46" y="311.00" width="1.85" height="1.55" fill="#36b6df"/>
<rect x="446.10" y="311.00" width="1.85" height="1.55" fill="#36b6df"/>
<rect x="448.74" y="311.00" width="1.85" height="1.55" fill="#36b6df"/>
<rect x="419.70" y="313.30" width="1.85" height="1.55" fill="#36b6df"/>
<rect x="422.34" y="313.30" width="1.85" height="1.55" fill="#36b6df"/>
<rect x="424.98" y="313.30" width="1.85" height="1.55" fill="#36b6df"/>
<rect x="427.62" y="313.30" width="1.85" height="1.55" fill="#36b6df"/>
<rect x="430.26" y="313.30" width="1.85" height="1.55" fill="#36b6df"/>
<rect x="432.90" y="313.30" width="1.85" height="1.55" fill="#36b6df"/>
<rect x="435.54" y="313.30" width="1.85" height="1.55" fill="#36b6df"/>
<rect x="438.18" y="313.30" width="1.85" height="1.55" fill="#36b6df"/>
<rect x="440.82" y="313.30" width="1.85" height="1.55" fill="#36b6df"/>
<rect x="443.46" y="313.30" width="1.85" height="1.55" fill="#36b6df"/>
<rect x="446.10" y="313.30" width="1.85" height="1.55" fill="#36b6df"/>
<rect x="448.74" y="313.30" width="1.85" height="1.55" fill="#36b6df"/>
<line x1="500.10" y1="233.70" x2="500.10" y2="236.00" stroke="#3a7ab6" stroke-width="1.0"/>
<line x1="502.11" y1="233.70" x2="502.11" y2="236.00" stroke="#3a7ab6" stroke-width="1.0"/>
<line x1="504.12" y1="233.70" x2="504.12" y2="236.00" stroke="#3a7ab6" stroke-width="1.0"/>
<line x1="506.13" y1="233.70" x2="506.13" y2="236.00" stroke="#3a7ab6" stroke-width="1.0"/>
<line x1="508.14" y1="233.70" x2="508.14" y2="236.00" stroke="#3a7ab6" stroke-width="1.0"/>
<line x1="510.15" y1="233.70" x2="510.15" y2="236.00" stroke="#3a7ab6" stroke-width="1.0"/>
<line x1="512.16" y1="233.70" x2="512.16" y2="236.00" stroke="#3a7ab6" stroke-width="1.0"/>
<line x1="514.17" y1="233.70" x2="514.17" y2="236.00" stroke="#3a7ab6" stroke-width="1.0"/>
<line x1="516.18" y1="233.70" x2="516.18" y2="236.00" stroke="#3a7ab6" stroke-width="1.0"/>
<line x1="518.19" y1="233.70" x2="518.19" y2="236.00" stroke="#3a7ab6" stroke-width="1.0"/>
<line x1="520.20" y1="233.70" x2="520.20" y2="236.00" stroke="#3a7ab6" stroke-width="1.0"/>
<line x1="522.21" y1="233.70" x2="522.21" y2="236.00" stroke="#3a7ab6" stroke-width="1.0"/>
<line x1="524.22" y1="233.70" x2="524.22" y2="236.00" stroke="#3a7ab6" stroke-width="1.0"/>
<line x1="526.23" y1="233.70" x2="526.23" y2="236.00" stroke="#3a7ab6" stroke-width="1.0"/>
<line x1="528.24" y1="233.70" x2="528.24" y2="236.00" stroke="#3a7ab6" stroke-width="1.0"/>
<line x1="530.25" y1="233.70" x2="530.25" y2="236.00" stroke="#3a7ab6" stroke-width="1.0"/>
<line x1="532.25" y1="233.70" x2="532.25" y2="236.00" stroke="#3a7ab6" stroke-width="1.0"/>
<line x1="534.26" y1="233.70" x2="534.26" y2="236.00" stroke="#3a7ab6" stroke-width="1.0"/>
<line x1="536.27" y1="233.70" x2="536.27" y2="236.00" stroke="#3a7ab6" stroke-width="1.0"/>
<line x1="538.28" y1="233.70" x2="538.28" y2="236.00" stroke="#3a7ab6" stroke-width="1.0"/>
<line x1="540.29" y1="233.70" x2="540.29" y2="236.00" stroke="#3a7ab6" stroke-width="1.0"/>
<line x1="542.30" y1="233.70" x2="542.30" y2="236.00" stroke="#3a7ab6" stroke-width="1.0"/>
<line x1="544.31" y1="233.70" x2="544.31" y2="236.00" stroke="#3a7ab6" stroke-width="1.0"/>
<line x1="546.32" y1="233.70" x2="546.32" y2="236.00" stroke="#3a7ab6" stroke-width="1.0"/>
<line x1="548.33" y1="233.70" x2="548.33" y2="236.00" stroke="#3a7ab6" stroke-width="1.0"/>
<line x1="550.34" y1="233.70" x2="550.34" y2="236.00" stroke="#3a7ab6" stroke-width="1.0"/>
<line x1="552.35" y1="233.70" x2="552.35" y2="236.00" stroke="#3a7ab6" stroke-width="1.0"/>
<line x1="554.36" y1="233.70" x2="554.36" y2="236.00" stroke="#3a7ab6" stroke-width="1.0"/>
<line x1="556.37" y1="233.70" x2="556.37" y2="236.00" stroke="#3a7ab6" stroke-width="1.0"/>
<line x1="558.38" y1="233.70" x2="558.38" y2="236.00" stroke="#3a7ab6" stroke-width="1.0"/>
<line x1="560.39" y1="233.70" x2="560.39" y2="236.00" stroke="#3a7ab6" stroke-width="1.0"/>
<line x1="562.40" y1="233.70" x2="562.40" y2="236.00" stroke="#3a7ab6" stroke-width="1.0"/>
<line x1="499.10" y1="233.70" x2="563.40" y2="233.70" stroke="#3a7ab6" stroke-width="1.4" stroke-linecap="round"/>
<line x1="500.06" y1="229.30" x2="500.06" y2="232.20" stroke="#2c6296" stroke-width="1.0"/>
<line x1="501.98" y1="229.30" x2="501.98" y2="232.20" stroke="#2c6296" stroke-width="1.0"/>
<line x1="503.90" y1="229.30" x2="503.90" y2="232.20" stroke="#2c6296" stroke-width="1.0"/>
<line x1="505.82" y1="229.30" x2="505.82" y2="232.20" stroke="#2c6296" stroke-width="1.0"/>
<line x1="507.74" y1="229.30" x2="507.74" y2="232.20" stroke="#2c6296" stroke-width="1.0"/>
<line x1="499.10" y1="229.30" x2="508.70" y2="229.30" stroke="#2c6296" stroke-width="1.2" stroke-linecap="round"/>
<line x1="491.99" y1="224.80" x2="490.71" y2="226.83" stroke="#2aa383" stroke-width="0.7"/>
<line x1="493.57" y1="225.80" x2="492.29" y2="227.83" stroke="#2aa383" stroke-width="0.7"/>
<line x1="495.15" y1="226.80" x2="493.87" y2="228.83" stroke="#2aa383" stroke-width="0.7"/>
<line x1="496.73" y1="227.80" x2="495.45" y2="229.83" stroke="#2aa383" stroke-width="0.7"/>
<line x1="498.31" y1="228.80" x2="497.03" y2="230.83" stroke="#2aa383" stroke-width="0.7"/>
<line x1="491.20" y1="224.30" x2="499.10" y2="229.30" stroke="#2aa383" stroke-width="1.2" stroke-linecap="round"/>
<line x1="554.22" y1="239.80" x2="554.22" y2="234.50" stroke="#3a86bf" stroke-width="1.15"/>
<line x1="556.26" y1="239.80" x2="556.26" y2="234.50" stroke="#3a86bf" stroke-width="1.15"/>
<line x1="558.30" y1="239.80" x2="558.30" y2="234.50" stroke="#3a86bf" stroke-width="1.15"/>
<line x1="560.34" y1="239.80" x2="560.34" y2="234.50" stroke="#3a86bf" stroke-width="1.15"/>
<line x1="562.38" y1="239.80" x2="562.38" y2="234.50" stroke="#3a86bf" stroke-width="1.15"/>
<line x1="553.20" y1="239.80" x2="563.40" y2="239.80" stroke="#3a86bf" stroke-width="1.3" stroke-linecap="round"/>
<line x1="564.14" y1="240.33" x2="565.60" y2="238.30" stroke="#8a1f2a" stroke-width="0.8"/>
<line x1="565.62" y1="241.39" x2="567.08" y2="239.36" stroke="#8a1f2a" stroke-width="0.8"/>
<line x1="567.10" y1="242.45" x2="568.56" y2="240.42" stroke="#8a1f2a" stroke-width="0.8"/>
<line x1="568.58" y1="243.51" x2="570.04" y2="241.48" stroke="#8a1f2a" stroke-width="0.8"/>
<line x1="570.06" y1="244.57" x2="571.52" y2="242.54" stroke="#8a1f2a" stroke-width="0.8"/>
<line x1="563.40" y1="239.80" x2="570.80" y2="245.10" stroke="#8a1f2a" stroke-width="1.3" stroke-linecap="round"/>
<line x1="500.10" y1="268.70" x2="500.10" y2="271.00" stroke="#3a7ab6" stroke-width="1.0"/>
<line x1="502.11" y1="268.70" x2="502.11" y2="271.00" stroke="#3a7ab6" stroke-width="1.0"/>
<line x1="504.12" y1="268.70" x2="504.12" y2="271.00" stroke="#3a7ab6" stroke-width="1.0"/>
<line x1="506.13" y1="268.70" x2="506.13" y2="271.00" stroke="#3a7ab6" stroke-width="1.0"/>
<line x1="508.14" y1="268.70" x2="508.14" y2="271.00" stroke="#3a7ab6" stroke-width="1.0"/>
<line x1="510.15" y1="268.70" x2="510.15" y2="271.00" stroke="#3a7ab6" stroke-width="1.0"/>
<line x1="512.16" y1="268.70" x2="512.16" y2="271.00" stroke="#3a7ab6" stroke-width="1.0"/>
<line x1="514.17" y1="268.70" x2="514.17" y2="271.00" stroke="#3a7ab6" stroke-width="1.0"/>
<line x1="516.18" y1="268.70" x2="516.18" y2="271.00" stroke="#3a7ab6" stroke-width="1.0"/>
<line x1="518.19" y1="268.70" x2="518.19" y2="271.00" stroke="#3a7ab6" stroke-width="1.0"/>
<line x1="520.20" y1="268.70" x2="520.20" y2="271.00" stroke="#3a7ab6" stroke-width="1.0"/>
<line x1="522.21" y1="268.70" x2="522.21" y2="271.00" stroke="#3a7ab6" stroke-width="1.0"/>
<line x1="524.22" y1="268.70" x2="524.22" y2="271.00" stroke="#3a7ab6" stroke-width="1.0"/>
<line x1="526.23" y1="268.70" x2="526.23" y2="271.00" stroke="#3a7ab6" stroke-width="1.0"/>
<line x1="528.24" y1="268.70" x2="528.24" y2="271.00" stroke="#3a7ab6" stroke-width="1.0"/>
<line x1="530.25" y1="268.70" x2="530.25" y2="271.00" stroke="#3a7ab6" stroke-width="1.0"/>
<line x1="532.25" y1="268.70" x2="532.25" y2="271.00" stroke="#3a7ab6" stroke-width="1.0"/>
<line x1="534.26" y1="268.70" x2="534.26" y2="271.00" stroke="#3a7ab6" stroke-width="1.0"/>
<line x1="536.27" y1="268.70" x2="536.27" y2="271.00" stroke="#3a7ab6" stroke-width="1.0"/>
<line x1="538.28" y1="268.70" x2="538.28" y2="271.00" stroke="#3a7ab6" stroke-width="1.0"/>
<line x1="540.29" y1="268.70" x2="540.29" y2="271.00" stroke="#3a7ab6" stroke-width="1.0"/>
<line x1="542.30" y1="268.70" x2="542.30" y2="271.00" stroke="#3a7ab6" stroke-width="1.0"/>
<line x1="544.31" y1="268.70" x2="544.31" y2="271.00" stroke="#3a7ab6" stroke-width="1.0"/>
<line x1="546.32" y1="268.70" x2="546.32" y2="271.00" stroke="#3a7ab6" stroke-width="1.0"/>
<line x1="548.33" y1="268.70" x2="548.33" y2="271.00" stroke="#3a7ab6" stroke-width="1.0"/>
<line x1="550.34" y1="268.70" x2="550.34" y2="271.00" stroke="#3a7ab6" stroke-width="1.0"/>
<line x1="552.35" y1="268.70" x2="552.35" y2="271.00" stroke="#3a7ab6" stroke-width="1.0"/>
<line x1="554.36" y1="268.70" x2="554.36" y2="271.00" stroke="#3a7ab6" stroke-width="1.0"/>
<line x1="556.37" y1="268.70" x2="556.37" y2="271.00" stroke="#3a7ab6" stroke-width="1.0"/>
<line x1="558.38" y1="268.70" x2="558.38" y2="271.00" stroke="#3a7ab6" stroke-width="1.0"/>
<line x1="560.39" y1="268.70" x2="560.39" y2="271.00" stroke="#3a7ab6" stroke-width="1.0"/>
<line x1="562.40" y1="268.70" x2="562.40" y2="271.00" stroke="#3a7ab6" stroke-width="1.0"/>
<line x1="499.10" y1="268.70" x2="563.40" y2="268.70" stroke="#3a7ab6" stroke-width="1.4" stroke-linecap="round"/>
<line x1="500.06" y1="263.50" x2="500.06" y2="267.20" stroke="#2c6296" stroke-width="1.0"/>
<line x1="501.98" y1="263.50" x2="501.98" y2="267.20" stroke="#2c6296" stroke-width="1.0"/>
<line x1="503.90" y1="263.50" x2="503.90" y2="267.20" stroke="#2c6296" stroke-width="1.0"/>
<line x1="505.82" y1="263.50" x2="505.82" y2="267.20" stroke="#2c6296" stroke-width="1.0"/>
<line x1="507.74" y1="263.50" x2="507.74" y2="267.20" stroke="#2c6296" stroke-width="1.0"/>
<line x1="499.10" y1="263.50" x2="508.70" y2="263.50" stroke="#2c6296" stroke-width="1.2" stroke-linecap="round"/>
<line x1="491.99" y1="259.00" x2="490.71" y2="261.03" stroke="#b565c4" stroke-width="0.7"/>
<line x1="493.57" y1="260.00" x2="492.29" y2="262.03" stroke="#b565c4" stroke-width="0.7"/>
<line x1="495.15" y1="261.00" x2="493.87" y2="263.03" stroke="#b565c4" stroke-width="0.7"/>
<line x1="496.73" y1="262.00" x2="495.45" y2="264.03" stroke="#b565c4" stroke-width="0.7"/>
<line x1="498.31" y1="263.00" x2="497.03" y2="265.03" stroke="#b565c4" stroke-width="0.7"/>
<line x1="491.20" y1="258.50" x2="499.10" y2="263.50" stroke="#b565c4" stroke-width="1.2" stroke-linecap="round"/>
<line x1="554.22" y1="274.20" x2="554.22" y2="269.50" stroke="#3a86bf" stroke-width="1.15"/>
<line x1="556.26" y1="274.20" x2="556.26" y2="269.50" stroke="#3a86bf" stroke-width="1.15"/>
<line x1="558.30" y1="274.20" x2="558.30" y2="269.50" stroke="#3a86bf" stroke-width="1.15"/>
<line x1="560.34" y1="274.20" x2="560.34" y2="269.50" stroke="#3a86bf" stroke-width="1.15"/>
<line x1="562.38" y1="274.20" x2="562.38" y2="269.50" stroke="#3a86bf" stroke-width="1.15"/>
<line x1="553.20" y1="274.20" x2="563.40" y2="274.20" stroke="#3a86bf" stroke-width="1.3" stroke-linecap="round"/>
<line x1="564.14" y1="274.73" x2="565.60" y2="272.70" stroke="#8a1f2a" stroke-width="0.8"/>
<line x1="565.62" y1="275.79" x2="567.08" y2="273.76" stroke="#8a1f2a" stroke-width="0.8"/>
<line x1="567.10" y1="276.85" x2="568.56" y2="274.82" stroke="#8a1f2a" stroke-width="0.8"/>
<line x1="568.58" y1="277.91" x2="570.04" y2="275.88" stroke="#8a1f2a" stroke-width="0.8"/>
<line x1="570.06" y1="278.97" x2="571.52" y2="276.94" stroke="#8a1f2a" stroke-width="0.8"/>
<line x1="563.40" y1="274.20" x2="570.80" y2="279.50" stroke="#8a1f2a" stroke-width="1.3" stroke-linecap="round"/>
<line x1="500.10" y1="305.40" x2="500.10" y2="307.70" stroke="#3a7ab6" stroke-width="1.0"/>
<line x1="502.11" y1="305.40" x2="502.11" y2="307.70" stroke="#3a7ab6" stroke-width="1.0"/>
<line x1="504.12" y1="305.40" x2="504.12" y2="307.70" stroke="#3a7ab6" stroke-width="1.0"/>
<line x1="506.13" y1="305.40" x2="506.13" y2="307.70" stroke="#3a7ab6" stroke-width="1.0"/>
<line x1="508.14" y1="305.40" x2="508.14" y2="307.70" stroke="#3a7ab6" stroke-width="1.0"/>
<line x1="510.15" y1="305.40" x2="510.15" y2="307.70" stroke="#3a7ab6" stroke-width="1.0"/>
<line x1="512.16" y1="305.40" x2="512.16" y2="307.70" stroke="#3a7ab6" stroke-width="1.0"/>
<line x1="514.17" y1="305.40" x2="514.17" y2="307.70" stroke="#3a7ab6" stroke-width="1.0"/>
<line x1="516.18" y1="305.40" x2="516.18" y2="307.70" stroke="#3a7ab6" stroke-width="1.0"/>
<line x1="518.19" y1="305.40" x2="518.19" y2="307.70" stroke="#3a7ab6" stroke-width="1.0"/>
<line x1="520.20" y1="305.40" x2="520.20" y2="307.70" stroke="#3a7ab6" stroke-width="1.0"/>
<line x1="522.21" y1="305.40" x2="522.21" y2="307.70" stroke="#3a7ab6" stroke-width="1.0"/>
<line x1="524.22" y1="305.40" x2="524.22" y2="307.70" stroke="#3a7ab6" stroke-width="1.0"/>
<line x1="526.23" y1="305.40" x2="526.23" y2="307.70" stroke="#3a7ab6" stroke-width="1.0"/>
<line x1="528.24" y1="305.40" x2="528.24" y2="307.70" stroke="#3a7ab6" stroke-width="1.0"/>
<line x1="530.25" y1="305.40" x2="530.25" y2="307.70" stroke="#3a7ab6" stroke-width="1.0"/>
<line x1="532.25" y1="305.40" x2="532.25" y2="307.70" stroke="#3a7ab6" stroke-width="1.0"/>
<line x1="534.26" y1="305.40" x2="534.26" y2="307.70" stroke="#3a7ab6" stroke-width="1.0"/>
<line x1="536.27" y1="305.40" x2="536.27" y2="307.70" stroke="#3a7ab6" stroke-width="1.0"/>
<line x1="538.28" y1="305.40" x2="538.28" y2="307.70" stroke="#3a7ab6" stroke-width="1.0"/>
<line x1="540.29" y1="305.40" x2="540.29" y2="307.70" stroke="#3a7ab6" stroke-width="1.0"/>
<line x1="542.30" y1="305.40" x2="542.30" y2="307.70" stroke="#3a7ab6" stroke-width="1.0"/>
<line x1="544.31" y1="305.40" x2="544.31" y2="307.70" stroke="#3a7ab6" stroke-width="1.0"/>
<line x1="546.32" y1="305.40" x2="546.32" y2="307.70" stroke="#3a7ab6" stroke-width="1.0"/>
<line x1="548.33" y1="305.40" x2="548.33" y2="307.70" stroke="#3a7ab6" stroke-width="1.0"/>
<line x1="550.34" y1="305.40" x2="550.34" y2="307.70" stroke="#3a7ab6" stroke-width="1.0"/>
<line x1="552.35" y1="305.40" x2="552.35" y2="307.70" stroke="#3a7ab6" stroke-width="1.0"/>
<line x1="554.36" y1="305.40" x2="554.36" y2="307.70" stroke="#3a7ab6" stroke-width="1.0"/>
<line x1="556.37" y1="305.40" x2="556.37" y2="307.70" stroke="#3a7ab6" stroke-width="1.0"/>
<line x1="558.38" y1="305.40" x2="558.38" y2="307.70" stroke="#3a7ab6" stroke-width="1.0"/>
<line x1="560.39" y1="305.40" x2="560.39" y2="307.70" stroke="#3a7ab6" stroke-width="1.0"/>
<line x1="562.40" y1="305.40" x2="562.40" y2="307.70" stroke="#3a7ab6" stroke-width="1.0"/>
<line x1="499.10" y1="305.40" x2="563.40" y2="305.40" stroke="#3a7ab6" stroke-width="1.4" stroke-linecap="round"/>
<line x1="500.06" y1="300.20" x2="500.06" y2="303.90" stroke="#2c6296" stroke-width="1.0"/>
<line x1="501.98" y1="300.20" x2="501.98" y2="303.90" stroke="#2c6296" stroke-width="1.0"/>
<line x1="503.90" y1="300.20" x2="503.90" y2="303.90" stroke="#2c6296" stroke-width="1.0"/>
<line x1="505.82" y1="300.20" x2="505.82" y2="303.90" stroke="#2c6296" stroke-width="1.0"/>
<line x1="507.74" y1="300.20" x2="507.74" y2="303.90" stroke="#2c6296" stroke-width="1.0"/>
<line x1="499.10" y1="300.20" x2="508.70" y2="300.20" stroke="#2c6296" stroke-width="1.2" stroke-linecap="round"/>
<line x1="491.99" y1="295.70" x2="490.71" y2="297.73" stroke="#f2703a" stroke-width="0.7"/>
<line x1="493.57" y1="296.70" x2="492.29" y2="298.73" stroke="#f2703a" stroke-width="0.7"/>
<line x1="495.15" y1="297.70" x2="493.87" y2="299.73" stroke="#f2703a" stroke-width="0.7"/>
<line x1="496.73" y1="298.70" x2="495.45" y2="300.73" stroke="#f2703a" stroke-width="0.7"/>
<line x1="498.31" y1="299.70" x2="497.03" y2="301.73" stroke="#f2703a" stroke-width="0.7"/>
<line x1="491.20" y1="295.20" x2="499.10" y2="300.20" stroke="#f2703a" stroke-width="1.2" stroke-linecap="round"/>
<line x1="554.22" y1="311.00" x2="554.22" y2="306.20" stroke="#3a86bf" stroke-width="1.15"/>
<line x1="556.26" y1="311.00" x2="556.26" y2="306.20" stroke="#3a86bf" stroke-width="1.15"/>
<line x1="558.30" y1="311.00" x2="558.30" y2="306.20" stroke="#3a86bf" stroke-width="1.15"/>
<line x1="560.34" y1="311.00" x2="560.34" y2="306.20" stroke="#3a86bf" stroke-width="1.15"/>
<line x1="562.38" y1="311.00" x2="562.38" y2="306.20" stroke="#3a86bf" stroke-width="1.15"/>
<line x1="553.20" y1="311.00" x2="563.40" y2="311.00" stroke="#3a86bf" stroke-width="1.3" stroke-linecap="round"/>
<line x1="564.14" y1="311.53" x2="565.60" y2="309.50" stroke="#8a1f2a" stroke-width="0.8"/>
<line x1="565.62" y1="312.59" x2="567.08" y2="310.56" stroke="#8a1f2a" stroke-width="0.8"/>
<line x1="567.10" y1="313.65" x2="568.56" y2="311.62" stroke="#8a1f2a" stroke-width="0.8"/>
<line x1="568.58" y1="314.71" x2="570.04" y2="312.68" stroke="#8a1f2a" stroke-width="0.8"/>
<line x1="570.06" y1="315.77" x2="571.52" y2="313.74" stroke="#8a1f2a" stroke-width="0.8"/>
<line x1="563.40" y1="311.00" x2="570.80" y2="316.30" stroke="#8a1f2a" stroke-width="1.3" stroke-linecap="round"/>
<line x1="606.70" y1="231.7" x2="606.70" y2="234.7" stroke="#3cb8a0" stroke-width="1.05" opacity="0.85"/>
<line x1="606.70" y1="234.7" x2="606.70" y2="237.7" stroke="#5a7a3a" stroke-width="1.05" opacity="0.8"/>
<line x1="609.30" y1="231.7" x2="609.30" y2="234.7" stroke="#3cb8a0" stroke-width="1.05" opacity="0.85"/>
<line x1="609.30" y1="234.7" x2="609.30" y2="237.7" stroke="#5a7a3a" stroke-width="1.05" opacity="0.8"/>
<line x1="611.90" y1="231.7" x2="611.90" y2="234.7" stroke="#3cb8a0" stroke-width="1.05" opacity="0.85"/>
<line x1="611.90" y1="234.7" x2="611.90" y2="237.7" stroke="#5a7a3a" stroke-width="1.05" opacity="0.8"/>
<line x1="614.50" y1="231.7" x2="614.50" y2="234.7" stroke="#3cb8a0" stroke-width="1.05" opacity="0.85"/>
<line x1="614.50" y1="234.7" x2="614.50" y2="237.7" stroke="#5a7a3a" stroke-width="1.05" opacity="0.8"/>
<rect x="605.40" y="231.2" width="10.40" height="1.3" fill="#3cb8a0"/>
<rect x="605.40" y="236.89999999999998" width="10.40" height="1.3" fill="#5a7a3a"/>
<line x1="616.96" y1="231.7" x2="616.96" y2="234.7" stroke="#3f7fbf" stroke-width="1.05" opacity="0.85"/>
<line x1="616.96" y1="234.7" x2="616.96" y2="237.7" stroke="#2ea4e6" stroke-width="1.05" opacity="0.8"/>
<line x1="619.28" y1="231.7" x2="619.28" y2="234.7" stroke="#3f7fbf" stroke-width="1.05" opacity="0.85"/>
<line x1="619.28" y1="234.7" x2="619.28" y2="237.7" stroke="#2ea4e6" stroke-width="1.05" opacity="0.8"/>
<line x1="621.60" y1="231.7" x2="621.60" y2="234.7" stroke="#3f7fbf" stroke-width="1.05" opacity="0.85"/>
<line x1="621.60" y1="234.7" x2="621.60" y2="237.7" stroke="#2ea4e6" stroke-width="1.05" opacity="0.8"/>
<line x1="623.92" y1="231.7" x2="623.92" y2="234.7" stroke="#3f7fbf" stroke-width="1.05" opacity="0.85"/>
<line x1="623.92" y1="234.7" x2="623.92" y2="237.7" stroke="#2ea4e6" stroke-width="1.05" opacity="0.8"/>
<line x1="626.25" y1="231.7" x2="626.25" y2="234.7" stroke="#3f7fbf" stroke-width="1.05" opacity="0.85"/>
<line x1="626.25" y1="234.7" x2="626.25" y2="237.7" stroke="#2ea4e6" stroke-width="1.05" opacity="0.8"/>
<line x1="628.57" y1="231.7" x2="628.57" y2="234.7" stroke="#3f7fbf" stroke-width="1.05" opacity="0.85"/>
<line x1="628.57" y1="234.7" x2="628.57" y2="237.7" stroke="#2ea4e6" stroke-width="1.05" opacity="0.8"/>
<line x1="630.89" y1="231.7" x2="630.89" y2="234.7" stroke="#3f7fbf" stroke-width="1.05" opacity="0.85"/>
<line x1="630.89" y1="234.7" x2="630.89" y2="237.7" stroke="#2ea4e6" stroke-width="1.05" opacity="0.8"/>
<line x1="633.21" y1="231.7" x2="633.21" y2="234.7" stroke="#3f7fbf" stroke-width="1.05" opacity="0.85"/>
<line x1="633.21" y1="234.7" x2="633.21" y2="237.7" stroke="#2ea4e6" stroke-width="1.05" opacity="0.8"/>
<line x1="635.53" y1="231.7" x2="635.53" y2="234.7" stroke="#3f7fbf" stroke-width="1.05" opacity="0.85"/>
<line x1="635.53" y1="234.7" x2="635.53" y2="237.7" stroke="#2ea4e6" stroke-width="1.05" opacity="0.8"/>
<line x1="637.85" y1="231.7" x2="637.85" y2="234.7" stroke="#3f7fbf" stroke-width="1.05" opacity="0.85"/>
<line x1="637.85" y1="234.7" x2="637.85" y2="237.7" stroke="#2ea4e6" stroke-width="1.05" opacity="0.8"/>
<line x1="640.17" y1="231.7" x2="640.17" y2="234.7" stroke="#3f7fbf" stroke-width="1.05" opacity="0.85"/>
<line x1="640.17" y1="234.7" x2="640.17" y2="237.7" stroke="#2ea4e6" stroke-width="1.05" opacity="0.8"/>
<line x1="642.50" y1="231.7" x2="642.50" y2="234.7" stroke="#3f7fbf" stroke-width="1.05" opacity="0.85"/>
<line x1="642.50" y1="234.7" x2="642.50" y2="237.7" stroke="#2ea4e6" stroke-width="1.05" opacity="0.8"/>
<line x1="644.82" y1="231.7" x2="644.82" y2="234.7" stroke="#3f7fbf" stroke-width="1.05" opacity="0.85"/>
<line x1="644.82" y1="234.7" x2="644.82" y2="237.7" stroke="#2ea4e6" stroke-width="1.05" opacity="0.8"/>
<line x1="647.14" y1="231.7" x2="647.14" y2="234.7" stroke="#3f7fbf" stroke-width="1.05" opacity="0.85"/>
<line x1="647.14" y1="234.7" x2="647.14" y2="237.7" stroke="#2ea4e6" stroke-width="1.05" opacity="0.8"/>
<line x1="649.46" y1="231.7" x2="649.46" y2="234.7" stroke="#3f7fbf" stroke-width="1.05" opacity="0.85"/>
<line x1="649.46" y1="234.7" x2="649.46" y2="237.7" stroke="#2ea4e6" stroke-width="1.05" opacity="0.8"/>
<line x1="651.78" y1="231.7" x2="651.78" y2="234.7" stroke="#3f7fbf" stroke-width="1.05" opacity="0.85"/>
<line x1="651.78" y1="234.7" x2="651.78" y2="237.7" stroke="#2ea4e6" stroke-width="1.05" opacity="0.8"/>
<line x1="654.10" y1="231.7" x2="654.10" y2="234.7" stroke="#3f7fbf" stroke-width="1.05" opacity="0.85"/>
<line x1="654.10" y1="234.7" x2="654.10" y2="237.7" stroke="#2ea4e6" stroke-width="1.05" opacity="0.8"/>
<line x1="656.42" y1="231.7" x2="656.42" y2="234.7" stroke="#3f7fbf" stroke-width="1.05" opacity="0.85"/>
<line x1="656.42" y1="234.7" x2="656.42" y2="237.7" stroke="#2ea4e6" stroke-width="1.05" opacity="0.8"/>
<line x1="658.75" y1="231.7" x2="658.75" y2="234.7" stroke="#3f7fbf" stroke-width="1.05" opacity="0.85"/>
<line x1="658.75" y1="234.7" x2="658.75" y2="237.7" stroke="#2ea4e6" stroke-width="1.05" opacity="0.8"/>
<line x1="661.07" y1="231.7" x2="661.07" y2="234.7" stroke="#3f7fbf" stroke-width="1.05" opacity="0.85"/>
<line x1="661.07" y1="234.7" x2="661.07" y2="237.7" stroke="#2ea4e6" stroke-width="1.05" opacity="0.8"/>
<line x1="663.39" y1="231.7" x2="663.39" y2="234.7" stroke="#3f7fbf" stroke-width="1.05" opacity="0.85"/>
<line x1="663.39" y1="234.7" x2="663.39" y2="237.7" stroke="#2ea4e6" stroke-width="1.05" opacity="0.8"/>
<line x1="665.71" y1="231.7" x2="665.71" y2="234.7" stroke="#3f7fbf" stroke-width="1.05" opacity="0.85"/>
<line x1="665.71" y1="234.7" x2="665.71" y2="237.7" stroke="#2ea4e6" stroke-width="1.05" opacity="0.8"/>
<line x1="668.03" y1="231.7" x2="668.03" y2="234.7" stroke="#3f7fbf" stroke-width="1.05" opacity="0.85"/>
<line x1="668.03" y1="234.7" x2="668.03" y2="237.7" stroke="#2ea4e6" stroke-width="1.05" opacity="0.8"/>
<line x1="670.35" y1="231.7" x2="670.35" y2="234.7" stroke="#3f7fbf" stroke-width="1.05" opacity="0.85"/>
<line x1="670.35" y1="234.7" x2="670.35" y2="237.7" stroke="#2ea4e6" stroke-width="1.05" opacity="0.8"/>
<line x1="672.67" y1="231.7" x2="672.67" y2="234.7" stroke="#3f7fbf" stroke-width="1.05" opacity="0.85"/>
<line x1="672.67" y1="234.7" x2="672.67" y2="237.7" stroke="#2ea4e6" stroke-width="1.05" opacity="0.8"/>
<line x1="675.00" y1="231.7" x2="675.00" y2="234.7" stroke="#3f7fbf" stroke-width="1.05" opacity="0.85"/>
<line x1="675.00" y1="234.7" x2="675.00" y2="237.7" stroke="#2ea4e6" stroke-width="1.05" opacity="0.8"/>
<line x1="677.32" y1="231.7" x2="677.32" y2="234.7" stroke="#3f7fbf" stroke-width="1.05" opacity="0.85"/>
<line x1="677.32" y1="234.7" x2="677.32" y2="237.7" stroke="#2ea4e6" stroke-width="1.05" opacity="0.8"/>
<line x1="679.64" y1="231.7" x2="679.64" y2="234.7" stroke="#3f7fbf" stroke-width="1.05" opacity="0.85"/>
<line x1="679.64" y1="234.7" x2="679.64" y2="237.7" stroke="#2ea4e6" stroke-width="1.05" opacity="0.8"/>
<rect x="615.80" y="231.2" width="65.00" height="1.3" fill="#3f7fbf"/>
<rect x="615.80" y="236.89999999999998" width="65.00" height="1.3" fill="#2ea4e6"/>
<line x1="682.07" y1="231.7" x2="682.07" y2="234.7" stroke="#c08850" stroke-width="1.05" opacity="0.85"/>
<line x1="682.07" y1="234.7" x2="682.07" y2="237.7" stroke="#a03030" stroke-width="1.05" opacity="0.8"/>
<line x1="684.62" y1="231.7" x2="684.62" y2="234.7" stroke="#c08850" stroke-width="1.05" opacity="0.85"/>
<line x1="684.62" y1="234.7" x2="684.62" y2="237.7" stroke="#a03030" stroke-width="1.05" opacity="0.8"/>
<line x1="687.17" y1="231.7" x2="687.17" y2="234.7" stroke="#c08850" stroke-width="1.05" opacity="0.85"/>
<line x1="687.17" y1="234.7" x2="687.17" y2="237.7" stroke="#a03030" stroke-width="1.05" opacity="0.8"/>
<line x1="689.73" y1="231.7" x2="689.73" y2="234.7" stroke="#c08850" stroke-width="1.05" opacity="0.85"/>
<line x1="689.73" y1="234.7" x2="689.73" y2="237.7" stroke="#a03030" stroke-width="1.05" opacity="0.8"/>
<rect x="680.80" y="231.2" width="10.20" height="1.3" fill="#c08850"/>
<rect x="680.80" y="236.89999999999998" width="10.20" height="1.3" fill="#a03030"/>
<line x1="606.70" y1="268.4" x2="606.70" y2="271.4" stroke="#d79ad8" stroke-width="1.05" opacity="0.85"/>
<line x1="606.70" y1="271.4" x2="606.70" y2="274.4" stroke="#e89ac6" stroke-width="1.05" opacity="0.8"/>
<line x1="609.30" y1="268.4" x2="609.30" y2="271.4" stroke="#d79ad8" stroke-width="1.05" opacity="0.85"/>
<line x1="609.30" y1="271.4" x2="609.30" y2="274.4" stroke="#e89ac6" stroke-width="1.05" opacity="0.8"/>
<line x1="611.90" y1="268.4" x2="611.90" y2="271.4" stroke="#d79ad8" stroke-width="1.05" opacity="0.85"/>
<line x1="611.90" y1="271.4" x2="611.90" y2="274.4" stroke="#e89ac6" stroke-width="1.05" opacity="0.8"/>
<line x1="614.50" y1="268.4" x2="614.50" y2="271.4" stroke="#d79ad8" stroke-width="1.05" opacity="0.85"/>
<line x1="614.50" y1="271.4" x2="614.50" y2="274.4" stroke="#e89ac6" stroke-width="1.05" opacity="0.8"/>
<rect x="605.40" y="267.9" width="10.40" height="1.3" fill="#d79ad8"/>
<rect x="605.40" y="273.59999999999997" width="10.40" height="1.3" fill="#e89ac6"/>
<line x1="616.96" y1="268.4" x2="616.96" y2="271.4" stroke="#3f7fbf" stroke-width="1.05" opacity="0.85"/>
<line x1="616.96" y1="271.4" x2="616.96" y2="274.4" stroke="#2ea4e6" stroke-width="1.05" opacity="0.8"/>
<line x1="619.28" y1="268.4" x2="619.28" y2="271.4" stroke="#3f7fbf" stroke-width="1.05" opacity="0.85"/>
<line x1="619.28" y1="271.4" x2="619.28" y2="274.4" stroke="#2ea4e6" stroke-width="1.05" opacity="0.8"/>
<line x1="621.60" y1="268.4" x2="621.60" y2="271.4" stroke="#3f7fbf" stroke-width="1.05" opacity="0.85"/>
<line x1="621.60" y1="271.4" x2="621.60" y2="274.4" stroke="#2ea4e6" stroke-width="1.05" opacity="0.8"/>
<line x1="623.92" y1="268.4" x2="623.92" y2="271.4" stroke="#3f7fbf" stroke-width="1.05" opacity="0.85"/>
<line x1="623.92" y1="271.4" x2="623.92" y2="274.4" stroke="#2ea4e6" stroke-width="1.05" opacity="0.8"/>
<line x1="626.25" y1="268.4" x2="626.25" y2="271.4" stroke="#3f7fbf" stroke-width="1.05" opacity="0.85"/>
<line x1="626.25" y1="271.4" x2="626.25" y2="274.4" stroke="#2ea4e6" stroke-width="1.05" opacity="0.8"/>
<line x1="628.57" y1="268.4" x2="628.57" y2="271.4" stroke="#3f7fbf" stroke-width="1.05" opacity="0.85"/>
<line x1="628.57" y1="271.4" x2="628.57" y2="274.4" stroke="#2ea4e6" stroke-width="1.05" opacity="0.8"/>
<line x1="630.89" y1="268.4" x2="630.89" y2="271.4" stroke="#3f7fbf" stroke-width="1.05" opacity="0.85"/>
<line x1="630.89" y1="271.4" x2="630.89" y2="274.4" stroke="#2ea4e6" stroke-width="1.05" opacity="0.8"/>
<line x1="633.21" y1="268.4" x2="633.21" y2="271.4" stroke="#3f7fbf" stroke-width="1.05" opacity="0.85"/>
<line x1="633.21" y1="271.4" x2="633.21" y2="274.4" stroke="#2ea4e6" stroke-width="1.05" opacity="0.8"/>
<line x1="635.53" y1="268.4" x2="635.53" y2="271.4" stroke="#3f7fbf" stroke-width="1.05" opacity="0.85"/>
<line x1="635.53" y1="271.4" x2="635.53" y2="274.4" stroke="#2ea4e6" stroke-width="1.05" opacity="0.8"/>
<line x1="637.85" y1="268.4" x2="637.85" y2="271.4" stroke="#3f7fbf" stroke-width="1.05" opacity="0.85"/>
<line x1="637.85" y1="271.4" x2="637.85" y2="274.4" stroke="#2ea4e6" stroke-width="1.05" opacity="0.8"/>
<line x1="640.17" y1="268.4" x2="640.17" y2="271.4" stroke="#3f7fbf" stroke-width="1.05" opacity="0.85"/>
<line x1="640.17" y1="271.4" x2="640.17" y2="274.4" stroke="#2ea4e6" stroke-width="1.05" opacity="0.8"/>
<line x1="642.50" y1="268.4" x2="642.50" y2="271.4" stroke="#3f7fbf" stroke-width="1.05" opacity="0.85"/>
<line x1="642.50" y1="271.4" x2="642.50" y2="274.4" stroke="#2ea4e6" stroke-width="1.05" opacity="0.8"/>
<line x1="644.82" y1="268.4" x2="644.82" y2="271.4" stroke="#3f7fbf" stroke-width="1.05" opacity="0.85"/>
<line x1="644.82" y1="271.4" x2="644.82" y2="274.4" stroke="#2ea4e6" stroke-width="1.05" opacity="0.8"/>
<line x1="647.14" y1="268.4" x2="647.14" y2="271.4" stroke="#3f7fbf" stroke-width="1.05" opacity="0.85"/>
<line x1="647.14" y1="271.4" x2="647.14" y2="274.4" stroke="#2ea4e6" stroke-width="1.05" opacity="0.8"/>
<line x1="649.46" y1="268.4" x2="649.46" y2="271.4" stroke="#3f7fbf" stroke-width="1.05" opacity="0.85"/>
<line x1="649.46" y1="271.4" x2="649.46" y2="274.4" stroke="#2ea4e6" stroke-width="1.05" opacity="0.8"/>
<line x1="651.78" y1="268.4" x2="651.78" y2="271.4" stroke="#3f7fbf" stroke-width="1.05" opacity="0.85"/>
<line x1="651.78" y1="271.4" x2="651.78" y2="274.4" stroke="#2ea4e6" stroke-width="1.05" opacity="0.8"/>
<line x1="654.10" y1="268.4" x2="654.10" y2="271.4" stroke="#3f7fbf" stroke-width="1.05" opacity="0.85"/>
<line x1="654.10" y1="271.4" x2="654.10" y2="274.4" stroke="#2ea4e6" stroke-width="1.05" opacity="0.8"/>
<line x1="656.42" y1="268.4" x2="656.42" y2="271.4" stroke="#3f7fbf" stroke-width="1.05" opacity="0.85"/>
<line x1="656.42" y1="271.4" x2="656.42" y2="274.4" stroke="#2ea4e6" stroke-width="1.05" opacity="0.8"/>
<line x1="658.75" y1="268.4" x2="658.75" y2="271.4" stroke="#3f7fbf" stroke-width="1.05" opacity="0.85"/>
<line x1="658.75" y1="271.4" x2="658.75" y2="274.4" stroke="#2ea4e6" stroke-width="1.05" opacity="0.8"/>
<line x1="661.07" y1="268.4" x2="661.07" y2="271.4" stroke="#3f7fbf" stroke-width="1.05" opacity="0.85"/>
<line x1="661.07" y1="271.4" x2="661.07" y2="274.4" stroke="#2ea4e6" stroke-width="1.05" opacity="0.8"/>
<line x1="663.39" y1="268.4" x2="663.39" y2="271.4" stroke="#3f7fbf" stroke-width="1.05" opacity="0.85"/>
<line x1="663.39" y1="271.4" x2="663.39" y2="274.4" stroke="#2ea4e6" stroke-width="1.05" opacity="0.8"/>
<line x1="665.71" y1="268.4" x2="665.71" y2="271.4" stroke="#3f7fbf" stroke-width="1.05" opacity="0.85"/>
<line x1="665.71" y1="271.4" x2="665.71" y2="274.4" stroke="#2ea4e6" stroke-width="1.05" opacity="0.8"/>
<line x1="668.03" y1="268.4" x2="668.03" y2="271.4" stroke="#3f7fbf" stroke-width="1.05" opacity="0.85"/>
<line x1="668.03" y1="271.4" x2="668.03" y2="274.4" stroke="#2ea4e6" stroke-width="1.05" opacity="0.8"/>
<line x1="670.35" y1="268.4" x2="670.35" y2="271.4" stroke="#3f7fbf" stroke-width="1.05" opacity="0.85"/>
<line x1="670.35" y1="271.4" x2="670.35" y2="274.4" stroke="#2ea4e6" stroke-width="1.05" opacity="0.8"/>
<line x1="672.67" y1="268.4" x2="672.67" y2="271.4" stroke="#3f7fbf" stroke-width="1.05" opacity="0.85"/>
<line x1="672.67" y1="271.4" x2="672.67" y2="274.4" stroke="#2ea4e6" stroke-width="1.05" opacity="0.8"/>
<line x1="675.00" y1="268.4" x2="675.00" y2="271.4" stroke="#3f7fbf" stroke-width="1.05" opacity="0.85"/>
<line x1="675.00" y1="271.4" x2="675.00" y2="274.4" stroke="#2ea4e6" stroke-width="1.05" opacity="0.8"/>
<line x1="677.32" y1="268.4" x2="677.32" y2="271.4" stroke="#3f7fbf" stroke-width="1.05" opacity="0.85"/>
<line x1="677.32" y1="271.4" x2="677.32" y2="274.4" stroke="#2ea4e6" stroke-width="1.05" opacity="0.8"/>
<line x1="679.64" y1="268.4" x2="679.64" y2="271.4" stroke="#3f7fbf" stroke-width="1.05" opacity="0.85"/>
<line x1="679.64" y1="271.4" x2="679.64" y2="274.4" stroke="#2ea4e6" stroke-width="1.05" opacity="0.8"/>
<rect x="615.80" y="267.9" width="65.00" height="1.3" fill="#3f7fbf"/>
<rect x="615.80" y="273.59999999999997" width="65.00" height="1.3" fill="#2ea4e6"/>
<line x1="682.07" y1="268.4" x2="682.07" y2="271.4" stroke="#a86a3c" stroke-width="1.05" opacity="0.85"/>
<line x1="682.07" y1="271.4" x2="682.07" y2="274.4" stroke="#a03030" stroke-width="1.05" opacity="0.8"/>
<line x1="684.62" y1="268.4" x2="684.62" y2="271.4" stroke="#a86a3c" stroke-width="1.05" opacity="0.85"/>
<line x1="684.62" y1="271.4" x2="684.62" y2="274.4" stroke="#a03030" stroke-width="1.05" opacity="0.8"/>
<line x1="687.17" y1="268.4" x2="687.17" y2="271.4" stroke="#a86a3c" stroke-width="1.05" opacity="0.85"/>
<line x1="687.17" y1="271.4" x2="687.17" y2="274.4" stroke="#a03030" stroke-width="1.05" opacity="0.8"/>
<line x1="689.73" y1="268.4" x2="689.73" y2="271.4" stroke="#a86a3c" stroke-width="1.05" opacity="0.85"/>
<line x1="689.73" y1="271.4" x2="689.73" y2="274.4" stroke="#a03030" stroke-width="1.05" opacity="0.8"/>
<rect x="680.80" y="267.9" width="10.20" height="1.3" fill="#a86a3c"/>
<rect x="680.80" y="273.59999999999997" width="10.20" height="1.3" fill="#a03030"/>
<line x1="606.70" y1="303.1" x2="606.70" y2="306.1" stroke="#f26a2a" stroke-width="1.05" opacity="0.85"/>
<line x1="606.70" y1="306.1" x2="606.70" y2="309.1" stroke="#efc020" stroke-width="1.05" opacity="0.8"/>
<line x1="609.30" y1="303.1" x2="609.30" y2="306.1" stroke="#f26a2a" stroke-width="1.05" opacity="0.85"/>
<line x1="609.30" y1="306.1" x2="609.30" y2="309.1" stroke="#efc020" stroke-width="1.05" opacity="0.8"/>
<line x1="611.90" y1="303.1" x2="611.90" y2="306.1" stroke="#f26a2a" stroke-width="1.05" opacity="0.85"/>
<line x1="611.90" y1="306.1" x2="611.90" y2="309.1" stroke="#efc020" stroke-width="1.05" opacity="0.8"/>
<line x1="614.50" y1="303.1" x2="614.50" y2="306.1" stroke="#f26a2a" stroke-width="1.05" opacity="0.85"/>
<line x1="614.50" y1="306.1" x2="614.50" y2="309.1" stroke="#efc020" stroke-width="1.05" opacity="0.8"/>
<rect x="605.40" y="302.6" width="10.40" height="1.3" fill="#f26a2a"/>
<rect x="605.40" y="308.3" width="10.40" height="1.3" fill="#efc020"/>
<line x1="616.96" y1="303.1" x2="616.96" y2="306.1" stroke="#3f7fbf" stroke-width="1.05" opacity="0.85"/>
<line x1="616.96" y1="306.1" x2="616.96" y2="309.1" stroke="#2ea4e6" stroke-width="1.05" opacity="0.8"/>
<line x1="619.28" y1="303.1" x2="619.28" y2="306.1" stroke="#3f7fbf" stroke-width="1.05" opacity="0.85"/>
<line x1="619.28" y1="306.1" x2="619.28" y2="309.1" stroke="#2ea4e6" stroke-width="1.05" opacity="0.8"/>
<line x1="621.60" y1="303.1" x2="621.60" y2="306.1" stroke="#3f7fbf" stroke-width="1.05" opacity="0.85"/>
<line x1="621.60" y1="306.1" x2="621.60" y2="309.1" stroke="#2ea4e6" stroke-width="1.05" opacity="0.8"/>
<line x1="623.92" y1="303.1" x2="623.92" y2="306.1" stroke="#3f7fbf" stroke-width="1.05" opacity="0.85"/>
<line x1="623.92" y1="306.1" x2="623.92" y2="309.1" stroke="#2ea4e6" stroke-width="1.05" opacity="0.8"/>
<line x1="626.25" y1="303.1" x2="626.25" y2="306.1" stroke="#3f7fbf" stroke-width="1.05" opacity="0.85"/>
<line x1="626.25" y1="306.1" x2="626.25" y2="309.1" stroke="#2ea4e6" stroke-width="1.05" opacity="0.8"/>
<line x1="628.57" y1="303.1" x2="628.57" y2="306.1" stroke="#3f7fbf" stroke-width="1.05" opacity="0.85"/>
<line x1="628.57" y1="306.1" x2="628.57" y2="309.1" stroke="#2ea4e6" stroke-width="1.05" opacity="0.8"/>
<line x1="630.89" y1="303.1" x2="630.89" y2="306.1" stroke="#3f7fbf" stroke-width="1.05" opacity="0.85"/>
<line x1="630.89" y1="306.1" x2="630.89" y2="309.1" stroke="#2ea4e6" stroke-width="1.05" opacity="0.8"/>
<line x1="633.21" y1="303.1" x2="633.21" y2="306.1" stroke="#3f7fbf" stroke-width="1.05" opacity="0.85"/>
<line x1="633.21" y1="306.1" x2="633.21" y2="309.1" stroke="#2ea4e6" stroke-width="1.05" opacity="0.8"/>
<line x1="635.53" y1="303.1" x2="635.53" y2="306.1" stroke="#3f7fbf" stroke-width="1.05" opacity="0.85"/>
<line x1="635.53" y1="306.1" x2="635.53" y2="309.1" stroke="#2ea4e6" stroke-width="1.05" opacity="0.8"/>
<line x1="637.85" y1="303.1" x2="637.85" y2="306.1" stroke="#3f7fbf" stroke-width="1.05" opacity="0.85"/>
<line x1="637.85" y1="306.1" x2="637.85" y2="309.1" stroke="#2ea4e6" stroke-width="1.05" opacity="0.8"/>
<line x1="640.17" y1="303.1" x2="640.17" y2="306.1" stroke="#3f7fbf" stroke-width="1.05" opacity="0.85"/>
<line x1="640.17" y1="306.1" x2="640.17" y2="309.1" stroke="#2ea4e6" stroke-width="1.05" opacity="0.8"/>
<line x1="642.50" y1="303.1" x2="642.50" y2="306.1" stroke="#3f7fbf" stroke-width="1.05" opacity="0.85"/>
<line x1="642.50" y1="306.1" x2="642.50" y2="309.1" stroke="#2ea4e6" stroke-width="1.05" opacity="0.8"/>
<line x1="644.82" y1="303.1" x2="644.82" y2="306.1" stroke="#3f7fbf" stroke-width="1.05" opacity="0.85"/>
<line x1="644.82" y1="306.1" x2="644.82" y2="309.1" stroke="#2ea4e6" stroke-width="1.05" opacity="0.8"/>
<line x1="647.14" y1="303.1" x2="647.14" y2="306.1" stroke="#3f7fbf" stroke-width="1.05" opacity="0.85"/>
<line x1="647.14" y1="306.1" x2="647.14" y2="309.1" stroke="#2ea4e6" stroke-width="1.05" opacity="0.8"/>
<line x1="649.46" y1="303.1" x2="649.46" y2="306.1" stroke="#3f7fbf" stroke-width="1.05" opacity="0.85"/>
<line x1="649.46" y1="306.1" x2="649.46" y2="309.1" stroke="#2ea4e6" stroke-width="1.05" opacity="0.8"/>
<line x1="651.78" y1="303.1" x2="651.78" y2="306.1" stroke="#3f7fbf" stroke-width="1.05" opacity="0.85"/>
<line x1="651.78" y1="306.1" x2="651.78" y2="309.1" stroke="#2ea4e6" stroke-width="1.05" opacity="0.8"/>
<line x1="654.10" y1="303.1" x2="654.10" y2="306.1" stroke="#3f7fbf" stroke-width="1.05" opacity="0.85"/>
<line x1="654.10" y1="306.1" x2="654.10" y2="309.1" stroke="#2ea4e6" stroke-width="1.05" opacity="0.8"/>
<line x1="656.42" y1="303.1" x2="656.42" y2="306.1" stroke="#3f7fbf" stroke-width="1.05" opacity="0.85"/>
<line x1="656.42" y1="306.1" x2="656.42" y2="309.1" stroke="#2ea4e6" stroke-width="1.05" opacity="0.8"/>
<line x1="658.75" y1="303.1" x2="658.75" y2="306.1" stroke="#3f7fbf" stroke-width="1.05" opacity="0.85"/>
<line x1="658.75" y1="306.1" x2="658.75" y2="309.1" stroke="#2ea4e6" stroke-width="1.05" opacity="0.8"/>
<line x1="661.07" y1="303.1" x2="661.07" y2="306.1" stroke="#3f7fbf" stroke-width="1.05" opacity="0.85"/>
<line x1="661.07" y1="306.1" x2="661.07" y2="309.1" stroke="#2ea4e6" stroke-width="1.05" opacity="0.8"/>
<line x1="663.39" y1="303.1" x2="663.39" y2="306.1" stroke="#3f7fbf" stroke-width="1.05" opacity="0.85"/>
<line x1="663.39" y1="306.1" x2="663.39" y2="309.1" stroke="#2ea4e6" stroke-width="1.05" opacity="0.8"/>
<line x1="665.71" y1="303.1" x2="665.71" y2="306.1" stroke="#3f7fbf" stroke-width="1.05" opacity="0.85"/>
<line x1="665.71" y1="306.1" x2="665.71" y2="309.1" stroke="#2ea4e6" stroke-width="1.05" opacity="0.8"/>
<line x1="668.03" y1="303.1" x2="668.03" y2="306.1" stroke="#3f7fbf" stroke-width="1.05" opacity="0.85"/>
<line x1="668.03" y1="306.1" x2="668.03" y2="309.1" stroke="#2ea4e6" stroke-width="1.05" opacity="0.8"/>
<line x1="670.35" y1="303.1" x2="670.35" y2="306.1" stroke="#3f7fbf" stroke-width="1.05" opacity="0.85"/>
<line x1="670.35" y1="306.1" x2="670.35" y2="309.1" stroke="#2ea4e6" stroke-width="1.05" opacity="0.8"/>
<line x1="672.67" y1="303.1" x2="672.67" y2="306.1" stroke="#3f7fbf" stroke-width="1.05" opacity="0.85"/>
<line x1="672.67" y1="306.1" x2="672.67" y2="309.1" stroke="#2ea4e6" stroke-width="1.05" opacity="0.8"/>
<line x1="675.00" y1="303.1" x2="675.00" y2="306.1" stroke="#3f7fbf" stroke-width="1.05" opacity="0.85"/>
<line x1="675.00" y1="306.1" x2="675.00" y2="309.1" stroke="#2ea4e6" stroke-width="1.05" opacity="0.8"/>
<line x1="677.32" y1="303.1" x2="677.32" y2="306.1" stroke="#3f7fbf" stroke-width="1.05" opacity="0.85"/>
<line x1="677.32" y1="306.1" x2="677.32" y2="309.1" stroke="#2ea4e6" stroke-width="1.05" opacity="0.8"/>
<line x1="679.64" y1="303.1" x2="679.64" y2="306.1" stroke="#3f7fbf" stroke-width="1.05" opacity="0.85"/>
<line x1="679.64" y1="306.1" x2="679.64" y2="309.1" stroke="#2ea4e6" stroke-width="1.05" opacity="0.8"/>
<rect x="615.80" y="302.6" width="65.00" height="1.3" fill="#3f7fbf"/>
<rect x="615.80" y="308.3" width="65.00" height="1.3" fill="#2ea4e6"/>
<line x1="682.07" y1="303.1" x2="682.07" y2="306.1" stroke="#b8956a" stroke-width="1.05" opacity="0.85"/>
<line x1="682.07" y1="306.1" x2="682.07" y2="309.1" stroke="#a03030" stroke-width="1.05" opacity="0.8"/>
<line x1="684.62" y1="303.1" x2="684.62" y2="306.1" stroke="#b8956a" stroke-width="1.05" opacity="0.85"/>
<line x1="684.62" y1="306.1" x2="684.62" y2="309.1" stroke="#a03030" stroke-width="1.05" opacity="0.8"/>
<line x1="687.17" y1="303.1" x2="687.17" y2="306.1" stroke="#b8956a" stroke-width="1.05" opacity="0.85"/>
<line x1="687.17" y1="306.1" x2="687.17" y2="309.1" stroke="#a03030" stroke-width="1.05" opacity="0.8"/>
<line x1="689.73" y1="303.1" x2="689.73" y2="306.1" stroke="#b8956a" stroke-width="1.05" opacity="0.85"/>
<line x1="689.73" y1="306.1" x2="689.73" y2="309.1" stroke="#a03030" stroke-width="1.05" opacity="0.8"/>
<rect x="680.80" y="302.6" width="10.20" height="1.3" fill="#b8956a"/>
<rect x="680.80" y="308.3" width="10.20" height="1.3" fill="#a03030"/>
<path d="M600.3 320.0 C600.3 324.4 602.0 325.2 605.5 325.2 L643.2 325.2 C647.6 325.2 648.9 327.8 649.0 340.0 C649.1 327.8 650.4 325.2 654.8 325.2 L692.4 325.2 C695.9 325.2 697.6 324.4 697.6 320.0" fill="none" stroke="#1a1a1a" stroke-width="1.3" stroke-linejoin="round"/>
<defs><linearGradient id="liq" x1="0" y1="0" x2="0" y2="1"><stop offset="0" stop-color="#9fcff0"/><stop offset="0.85" stop-color="#b4daf3"/><stop offset="1" stop-color="#cfe5f4"/></linearGradient></defs>
<path d="M643.9 349.5 L654.1 349.5 L653.2 372.6 L649.8 378.6 Q649.0 379.6 648.2 378.6 L644.8 372.6 Z" fill="#e6eaef" stroke="#c8cfd6" stroke-width="0.6"/>
<path d="M644.6 350 L653.4 350 L652.8 365.6 L645.2 366.8 Z" fill="url(#liq)"/>
<path d="M646.2 350 L648.0 350 L647.9 371.5 L646.5 371.5 Z" fill="#ffffff" opacity="0.4"/>
<circle cx="650.2" cy="353.5" r="0.45" fill="#ffffff" opacity="0.8"/>
<circle cx="651.6" cy="357.0" r="0.45" fill="#ffffff" opacity="0.8"/>
<circle cx="650.0" cy="360.2" r="0.45" fill="#ffffff" opacity="0.8"/>
<circle cx="651.9" cy="362.8" r="0.45" fill="#ffffff" opacity="0.8"/>
<circle cx="650.8" cy="364.8" r="0.45" fill="#ffffff" opacity="0.8"/>
<circle cx="649.4" cy="356.3" r="0.45" fill="#ffffff" opacity="0.8"/>
<rect x="643.0" y="345.3" width="12.0" height="5.0" rx="1.6" fill="#2272ad"/>
<rect x="643.0" y="348.4" width="12.0" height="1.9" rx="0.9" fill="#1b5f92"/>
<rect x="463.00" y="342.40" width="10.50" height="1.80" fill="#b4b8bc" opacity="0.28"/>
<rect x="463.00" y="341.60" width="10.50" height="0.95" fill="#a9adb2"/>
<rect x="463.00" y="344.05" width="10.50" height="0.95" fill="#b4b8bc"/>
<rect x="473.50" y="342.40" width="4.40" height="1.80" fill="#3aa890" opacity="0.41"/>
<rect x="473.50" y="341.60" width="4.40" height="0.95" fill="#3aa890"/>
<rect x="473.50" y="344.05" width="4.40" height="0.95" fill="#3aa890"/>
<rect x="477.90" y="342.40" width="31.10" height="1.80" fill="#38a8e4" opacity="0.30"/>
<rect x="477.90" y="341.60" width="31.10" height="0.95" fill="#3f86c0"/>
<rect x="477.90" y="344.05" width="31.10" height="0.95" fill="#38a8e4"/>
<rect x="509.00" y="342.40" width="4.40" height="1.80" fill="#5a2a30" opacity="0.41"/>
<rect x="509.00" y="341.60" width="4.40" height="0.95" fill="#5a2a30"/>
<rect x="509.00" y="344.05" width="4.40" height="0.95" fill="#5a2a30"/>
<rect x="513.40" y="342.40" width="10.50" height="1.80" fill="#b4b8bc" opacity="0.28"/>
<rect x="513.40" y="341.60" width="10.50" height="0.95" fill="#a9adb2"/>
<rect x="513.40" y="344.05" width="10.50" height="0.95" fill="#b4b8bc"/>
<line x1="464.17" y1="342.30" x2="464.17" y2="344.30" stroke="#ffffff" stroke-width="0.9" opacity="0.85"/>
<line x1="466.51" y1="342.30" x2="466.51" y2="344.30" stroke="#ffffff" stroke-width="0.9" opacity="0.85"/>
<line x1="468.86" y1="342.30" x2="468.86" y2="344.30" stroke="#ffffff" stroke-width="0.9" opacity="0.85"/>
<line x1="471.20" y1="342.30" x2="471.20" y2="344.30" stroke="#ffffff" stroke-width="0.9" opacity="0.85"/>
<line x1="473.54" y1="342.30" x2="473.54" y2="344.30" stroke="#ffffff" stroke-width="0.9" opacity="0.85"/>
<line x1="475.88" y1="342.30" x2="475.88" y2="344.30" stroke="#ffffff" stroke-width="0.9" opacity="0.85"/>
<line x1="478.23" y1="342.30" x2="478.23" y2="344.30" stroke="#ffffff" stroke-width="0.9" opacity="0.85"/>
<line x1="480.57" y1="342.30" x2="480.57" y2="344.30" stroke="#ffffff" stroke-width="0.9" opacity="0.85"/>
<line x1="482.91" y1="342.30" x2="482.91" y2="344.30" stroke="#ffffff" stroke-width="0.9" opacity="0.85"/>
<line x1="485.25" y1="342.30" x2="485.25" y2="344.30" stroke="#ffffff" stroke-width="0.9" opacity="0.85"/>
<line x1="487.59" y1="342.30" x2="487.59" y2="344.30" stroke="#ffffff" stroke-width="0.9" opacity="0.85"/>
<line x1="489.94" y1="342.30" x2="489.94" y2="344.30" stroke="#ffffff" stroke-width="0.9" opacity="0.85"/>
<line x1="492.28" y1="342.30" x2="492.28" y2="344.30" stroke="#ffffff" stroke-width="0.9" opacity="0.85"/>
<line x1="494.62" y1="342.30" x2="494.62" y2="344.30" stroke="#ffffff" stroke-width="0.9" opacity="0.85"/>
<line x1="496.96" y1="342.30" x2="496.96" y2="344.30" stroke="#ffffff" stroke-width="0.9" opacity="0.85"/>
<line x1="499.31" y1="342.30" x2="499.31" y2="344.30" stroke="#ffffff" stroke-width="0.9" opacity="0.85"/>
<line x1="501.65" y1="342.30" x2="501.65" y2="344.30" stroke="#ffffff" stroke-width="0.9" opacity="0.85"/>
<line x1="503.99" y1="342.30" x2="503.99" y2="344.30" stroke="#ffffff" stroke-width="0.9" opacity="0.85"/>
<line x1="506.33" y1="342.30" x2="506.33" y2="344.30" stroke="#ffffff" stroke-width="0.9" opacity="0.85"/>
<line x1="508.68" y1="342.30" x2="508.68" y2="344.30" stroke="#ffffff" stroke-width="0.9" opacity="0.85"/>
<line x1="511.02" y1="342.30" x2="511.02" y2="344.30" stroke="#ffffff" stroke-width="0.9" opacity="0.85"/>
<line x1="513.36" y1="342.30" x2="513.36" y2="344.30" stroke="#ffffff" stroke-width="0.9" opacity="0.85"/>
<line x1="515.70" y1="342.30" x2="515.70" y2="344.30" stroke="#ffffff" stroke-width="0.9" opacity="0.85"/>
<line x1="518.04" y1="342.30" x2="518.04" y2="344.30" stroke="#ffffff" stroke-width="0.9" opacity="0.85"/>
<line x1="520.39" y1="342.30" x2="520.39" y2="344.30" stroke="#ffffff" stroke-width="0.9" opacity="0.85"/>
<line x1="522.73" y1="342.30" x2="522.73" y2="344.30" stroke="#ffffff" stroke-width="0.9" opacity="0.85"/>
<rect x="544.50" y="342.50" width="13.00" height="1.80" fill="#2e6fa8" opacity="0.28"/>
<rect x="544.50" y="341.70" width="13.00" height="0.95" fill="#d04848"/>
<rect x="544.50" y="344.15" width="13.00" height="0.95" fill="#2e6fa8"/>
<rect x="557.50" y="342.50" width="4.40" height="1.80" fill="#d070b0" opacity="0.41"/>
<rect x="557.50" y="341.70" width="4.40" height="0.95" fill="#d070b0"/>
<rect x="557.50" y="344.15" width="4.40" height="0.95" fill="#d070b0"/>
<rect x="561.90" y="342.50" width="28.70" height="1.80" fill="#2e6fa8" opacity="0.30"/>
<rect x="561.90" y="341.70" width="28.70" height="0.95" fill="#3f86c0"/>
<rect x="561.90" y="344.15" width="28.70" height="0.95" fill="#2e6fa8"/>
<rect x="590.60" y="342.50" width="4.40" height="1.80" fill="#a0a0a8" opacity="0.41"/>
<rect x="590.60" y="341.70" width="4.40" height="0.95" fill="#a0a0a8"/>
<rect x="590.60" y="344.15" width="4.40" height="0.95" fill="#a0a0a8"/>
<rect x="595.00" y="342.50" width="10.50" height="1.80" fill="#2e6fa8" opacity="0.28"/>
<rect x="595.00" y="341.70" width="10.50" height="0.95" fill="#d04848"/>
<rect x="595.00" y="344.15" width="10.50" height="0.95" fill="#2e6fa8"/>
<line x1="545.67" y1="342.40" x2="545.67" y2="344.40" stroke="#ffffff" stroke-width="0.9" opacity="0.85"/>
<line x1="548.02" y1="342.40" x2="548.02" y2="344.40" stroke="#ffffff" stroke-width="0.9" opacity="0.85"/>
<line x1="550.37" y1="342.40" x2="550.37" y2="344.40" stroke="#ffffff" stroke-width="0.9" opacity="0.85"/>
<line x1="552.71" y1="342.40" x2="552.71" y2="344.40" stroke="#ffffff" stroke-width="0.9" opacity="0.85"/>
<line x1="555.06" y1="342.40" x2="555.06" y2="344.40" stroke="#ffffff" stroke-width="0.9" opacity="0.85"/>
<line x1="557.40" y1="342.40" x2="557.40" y2="344.40" stroke="#ffffff" stroke-width="0.9" opacity="0.85"/>
<line x1="559.75" y1="342.40" x2="559.75" y2="344.40" stroke="#ffffff" stroke-width="0.9" opacity="0.85"/>
<line x1="562.10" y1="342.40" x2="562.10" y2="344.40" stroke="#ffffff" stroke-width="0.9" opacity="0.85"/>
<line x1="564.44" y1="342.40" x2="564.44" y2="344.40" stroke="#ffffff" stroke-width="0.9" opacity="0.85"/>
<line x1="566.79" y1="342.40" x2="566.79" y2="344.40" stroke="#ffffff" stroke-width="0.9" opacity="0.85"/>
<line x1="569.13" y1="342.40" x2="569.13" y2="344.40" stroke="#ffffff" stroke-width="0.9" opacity="0.85"/>
<line x1="571.48" y1="342.40" x2="571.48" y2="344.40" stroke="#ffffff" stroke-width="0.9" opacity="0.85"/>
<line x1="573.83" y1="342.40" x2="573.83" y2="344.40" stroke="#ffffff" stroke-width="0.9" opacity="0.85"/>
<line x1="576.17" y1="342.40" x2="576.17" y2="344.40" stroke="#ffffff" stroke-width="0.9" opacity="0.85"/>
<line x1="578.52" y1="342.40" x2="578.52" y2="344.40" stroke="#ffffff" stroke-width="0.9" opacity="0.85"/>
<line x1="580.87" y1="342.40" x2="580.87" y2="344.40" stroke="#ffffff" stroke-width="0.9" opacity="0.85"/>
<line x1="583.21" y1="342.40" x2="583.21" y2="344.40" stroke="#ffffff" stroke-width="0.9" opacity="0.85"/>
<line x1="585.56" y1="342.40" x2="585.56" y2="344.40" stroke="#ffffff" stroke-width="0.9" opacity="0.85"/>
<line x1="587.90" y1="342.40" x2="587.90" y2="344.40" stroke="#ffffff" stroke-width="0.9" opacity="0.85"/>
<line x1="590.25" y1="342.40" x2="590.25" y2="344.40" stroke="#ffffff" stroke-width="0.9" opacity="0.85"/>
<line x1="592.60" y1="342.40" x2="592.60" y2="344.40" stroke="#ffffff" stroke-width="0.9" opacity="0.85"/>
<line x1="594.94" y1="342.40" x2="594.94" y2="344.40" stroke="#ffffff" stroke-width="0.9" opacity="0.85"/>
<line x1="597.29" y1="342.40" x2="597.29" y2="344.40" stroke="#ffffff" stroke-width="0.9" opacity="0.85"/>
<line x1="599.63" y1="342.40" x2="599.63" y2="344.40" stroke="#ffffff" stroke-width="0.9" opacity="0.85"/>
<line x1="601.98" y1="342.40" x2="601.98" y2="344.40" stroke="#ffffff" stroke-width="0.9" opacity="0.85"/>
<line x1="604.33" y1="342.40" x2="604.33" y2="344.40" stroke="#ffffff" stroke-width="0.9" opacity="0.85"/>
<rect x="463.00" y="353.10" width="10.50" height="1.80" fill="#2e6fa8" opacity="0.28"/>
<rect x="463.00" y="352.30" width="10.50" height="0.95" fill="#d04848"/>
<rect x="463.00" y="354.75" width="10.50" height="0.95" fill="#2e6fa8"/>
<rect x="473.50" y="353.10" width="4.40" height="1.80" fill="#e0a0d0" opacity="0.41"/>
<rect x="473.50" y="352.30" width="4.40" height="0.95" fill="#e0a0d0"/>
<rect x="473.50" y="354.75" width="4.40" height="0.95" fill="#e0a0d0"/>
<rect x="477.90" y="353.10" width="31.10" height="1.80" fill="#38a8e4" opacity="0.30"/>
<rect x="477.90" y="352.30" width="31.10" height="0.95" fill="#3f86c0"/>
<rect x="477.90" y="354.75" width="31.10" height="0.95" fill="#38a8e4"/>
<rect x="509.00" y="353.10" width="4.40" height="1.80" fill="#8a4030" opacity="0.41"/>
<rect x="509.00" y="352.30" width="4.40" height="0.95" fill="#8a4030"/>
<rect x="509.00" y="354.75" width="4.40" height="0.95" fill="#8a4030"/>
<rect x="513.40" y="353.10" width="10.50" height="1.80" fill="#2e6fa8" opacity="0.28"/>
<rect x="513.40" y="352.30" width="10.50" height="0.95" fill="#d04848"/>
<rect x="513.40" y="354.75" width="10.50" height="0.95" fill="#2e6fa8"/>
<line x1="464.17" y1="353.00" x2="464.17" y2="355.00" stroke="#ffffff" stroke-width="0.9" opacity="0.85"/>
<line x1="466.51" y1="353.00" x2="466.51" y2="355.00" stroke="#ffffff" stroke-width="0.9" opacity="0.85"/>
<line x1="468.86" y1="353.00" x2="468.86" y2="355.00" stroke="#ffffff" stroke-width="0.9" opacity="0.85"/>
<line x1="471.20" y1="353.00" x2="471.20" y2="355.00" stroke="#ffffff" stroke-width="0.9" opacity="0.85"/>
<line x1="473.54" y1="353.00" x2="473.54" y2="355.00" stroke="#ffffff" stroke-width="0.9" opacity="0.85"/>
<line x1="475.88" y1="353.00" x2="475.88" y2="355.00" stroke="#ffffff" stroke-width="0.9" opacity="0.85"/>
<line x1="478.23" y1="353.00" x2="478.23" y2="355.00" stroke="#ffffff" stroke-width="0.9" opacity="0.85"/>
<line x1="480.57" y1="353.00" x2="480.57" y2="355.00" stroke="#ffffff" stroke-width="0.9" opacity="0.85"/>
<line x1="482.91" y1="353.00" x2="482.91" y2="355.00" stroke="#ffffff" stroke-width="0.9" opacity="0.85"/>
<line x1="485.25" y1="353.00" x2="485.25" y2="355.00" stroke="#ffffff" stroke-width="0.9" opacity="0.85"/>
<line x1="487.59" y1="353.00" x2="487.59" y2="355.00" stroke="#ffffff" stroke-width="0.9" opacity="0.85"/>
<line x1="489.94" y1="353.00" x2="489.94" y2="355.00" stroke="#ffffff" stroke-width="0.9" opacity="0.85"/>
<line x1="492.28" y1="353.00" x2="492.28" y2="355.00" stroke="#ffffff" stroke-width="0.9" opacity="0.85"/>
<line x1="494.62" y1="353.00" x2="494.62" y2="355.00" stroke="#ffffff" stroke-width="0.9" opacity="0.85"/>
<line x1="496.96" y1="353.00" x2="496.96" y2="355.00" stroke="#ffffff" stroke-width="0.9" opacity="0.85"/>
<line x1="499.31" y1="353.00" x2="499.31" y2="355.00" stroke="#ffffff" stroke-width="0.9" opacity="0.85"/>
<line x1="501.65" y1="353.00" x2="501.65" y2="355.00" stroke="#ffffff" stroke-width="0.9" opacity="0.85"/>
<line x1="503.99" y1="353.00" x2="503.99" y2="355.00" stroke="#ffffff" stroke-width="0.9" opacity="0.85"/>
<line x1="506.33" y1="353.00" x2="506.33" y2="355.00" stroke="#ffffff" stroke-width="0.9" opacity="0.85"/>
<line x1="508.68" y1="353.00" x2="508.68" y2="355.00" stroke="#ffffff" stroke-width="0.9" opacity="0.85"/>
<line x1="511.02" y1="353.00" x2="511.02" y2="355.00" stroke="#ffffff" stroke-width="0.9" opacity="0.85"/>
<line x1="513.36" y1="353.00" x2="513.36" y2="355.00" stroke="#ffffff" stroke-width="0.9" opacity="0.85"/>
<line x1="515.70" y1="353.00" x2="515.70" y2="355.00" stroke="#ffffff" stroke-width="0.9" opacity="0.85"/>
<line x1="518.04" y1="353.00" x2="518.04" y2="355.00" stroke="#ffffff" stroke-width="0.9" opacity="0.85"/>
<line x1="520.39" y1="353.00" x2="520.39" y2="355.00" stroke="#ffffff" stroke-width="0.9" opacity="0.85"/>
<line x1="522.73" y1="353.00" x2="522.73" y2="355.00" stroke="#ffffff" stroke-width="0.9" opacity="0.85"/>
<rect x="531.00" y="352.30" width="14.50" height="1.80" fill="#eba91e" opacity="0.28"/>
<rect x="531.00" y="351.50" width="14.50" height="0.95" fill="#f2b838"/>
<rect x="531.00" y="353.95" width="14.50" height="0.95" fill="#eba91e"/>
<rect x="545.50" y="352.30" width="3.80" height="1.80" fill="#f0a830" opacity="0.41"/>
<rect x="545.50" y="351.50" width="3.80" height="0.95" fill="#f0a830"/>
<rect x="545.50" y="353.95" width="3.80" height="0.95" fill="#f0a830"/>
<rect x="549.30" y="352.30" width="27.90" height="1.80" fill="#38a8e4" opacity="0.30"/>
<rect x="549.30" y="351.50" width="27.90" height="0.95" fill="#3f86c0"/>
<rect x="549.30" y="353.95" width="27.90" height="0.95" fill="#38a8e4"/>
<rect x="577.20" y="352.30" width="3.80" height="1.80" fill="#a02828" opacity="0.41"/>
<rect x="577.20" y="351.50" width="3.80" height="0.95" fill="#a02828"/>
<rect x="577.20" y="353.95" width="3.80" height="0.95" fill="#a02828"/>
<rect x="581.00" y="352.30" width="11.00" height="1.80" fill="#eba91e" opacity="0.28"/>
<rect x="581.00" y="351.50" width="11.00" height="0.95" fill="#f2b838"/>
<rect x="581.00" y="353.95" width="11.00" height="0.95" fill="#eba91e"/>
<line x1="532.17" y1="352.20" x2="532.17" y2="354.20" stroke="#ffffff" stroke-width="0.9" opacity="0.85"/>
<line x1="534.52" y1="352.20" x2="534.52" y2="354.20" stroke="#ffffff" stroke-width="0.9" opacity="0.85"/>
<line x1="536.87" y1="352.20" x2="536.87" y2="354.20" stroke="#ffffff" stroke-width="0.9" opacity="0.85"/>
<line x1="539.21" y1="352.20" x2="539.21" y2="354.20" stroke="#ffffff" stroke-width="0.9" opacity="0.85"/>
<line x1="541.56" y1="352.20" x2="541.56" y2="354.20" stroke="#ffffff" stroke-width="0.9" opacity="0.85"/>
<line x1="543.90" y1="352.20" x2="543.90" y2="354.20" stroke="#ffffff" stroke-width="0.9" opacity="0.85"/>
<line x1="546.25" y1="352.20" x2="546.25" y2="354.20" stroke="#ffffff" stroke-width="0.9" opacity="0.85"/>
<line x1="548.60" y1="352.20" x2="548.60" y2="354.20" stroke="#ffffff" stroke-width="0.9" opacity="0.85"/>
<line x1="550.94" y1="352.20" x2="550.94" y2="354.20" stroke="#ffffff" stroke-width="0.9" opacity="0.85"/>
<line x1="553.29" y1="352.20" x2="553.29" y2="354.20" stroke="#ffffff" stroke-width="0.9" opacity="0.85"/>
<line x1="555.63" y1="352.20" x2="555.63" y2="354.20" stroke="#ffffff" stroke-width="0.9" opacity="0.85"/>
<line x1="557.98" y1="352.20" x2="557.98" y2="354.20" stroke="#ffffff" stroke-width="0.9" opacity="0.85"/>
<line x1="560.33" y1="352.20" x2="560.33" y2="354.20" stroke="#ffffff" stroke-width="0.9" opacity="0.85"/>
<line x1="562.67" y1="352.20" x2="562.67" y2="354.20" stroke="#ffffff" stroke-width="0.9" opacity="0.85"/>
<line x1="565.02" y1="352.20" x2="565.02" y2="354.20" stroke="#ffffff" stroke-width="0.9" opacity="0.85"/>
<line x1="567.37" y1="352.20" x2="567.37" y2="354.20" stroke="#ffffff" stroke-width="0.9" opacity="0.85"/>
<line x1="569.71" y1="352.20" x2="569.71" y2="354.20" stroke="#ffffff" stroke-width="0.9" opacity="0.85"/>
<line x1="572.06" y1="352.20" x2="572.06" y2="354.20" stroke="#ffffff" stroke-width="0.9" opacity="0.85"/>
<line x1="574.40" y1="352.20" x2="574.40" y2="354.20" stroke="#ffffff" stroke-width="0.9" opacity="0.85"/>
<line x1="576.75" y1="352.20" x2="576.75" y2="354.20" stroke="#ffffff" stroke-width="0.9" opacity="0.85"/>
<line x1="579.10" y1="352.20" x2="579.10" y2="354.20" stroke="#ffffff" stroke-width="0.9" opacity="0.85"/>
<line x1="581.44" y1="352.20" x2="581.44" y2="354.20" stroke="#ffffff" stroke-width="0.9" opacity="0.85"/>
<line x1="583.79" y1="352.20" x2="583.79" y2="354.20" stroke="#ffffff" stroke-width="0.9" opacity="0.85"/>
<line x1="586.13" y1="352.20" x2="586.13" y2="354.20" stroke="#ffffff" stroke-width="0.9" opacity="0.85"/>
<line x1="588.48" y1="352.20" x2="588.48" y2="354.20" stroke="#ffffff" stroke-width="0.9" opacity="0.85"/>
<line x1="590.83" y1="352.20" x2="590.83" y2="354.20" stroke="#ffffff" stroke-width="0.9" opacity="0.85"/>
<rect x="459.90" y="364.10" width="10.50" height="1.80" fill="#f08f7e" opacity="0.28"/>
<rect x="459.90" y="363.30" width="10.50" height="0.95" fill="#f07a68"/>
<rect x="459.90" y="365.75" width="10.50" height="0.95" fill="#f08f7e"/>
<rect x="470.40" y="364.10" width="4.40" height="1.80" fill="#58c0de" opacity="0.41"/>
<rect x="470.40" y="363.30" width="4.40" height="0.95" fill="#58c0de"/>
<rect x="470.40" y="365.75" width="4.40" height="0.95" fill="#58c0de"/>
<rect x="474.80" y="364.10" width="31.00" height="1.80" fill="#38a8e4" opacity="0.30"/>
<rect x="474.80" y="363.30" width="31.00" height="0.95" fill="#3f86c0"/>
<rect x="474.80" y="365.75" width="31.00" height="0.95" fill="#38a8e4"/>
<rect x="505.80" y="364.10" width="4.40" height="1.80" fill="#f08868" opacity="0.41"/>
<rect x="505.80" y="363.30" width="4.40" height="0.95" fill="#f08868"/>
<rect x="505.80" y="365.75" width="4.40" height="0.95" fill="#f08868"/>
<rect x="510.20" y="364.10" width="11.00" height="1.80" fill="#f08f7e" opacity="0.28"/>
<rect x="510.20" y="363.30" width="11.00" height="0.95" fill="#f07a68"/>
<rect x="510.20" y="365.75" width="11.00" height="0.95" fill="#f08f7e"/>
<line x1="461.08" y1="364.00" x2="461.08" y2="366.00" stroke="#ffffff" stroke-width="0.9" opacity="0.85"/>
<line x1="463.44" y1="364.00" x2="463.44" y2="366.00" stroke="#ffffff" stroke-width="0.9" opacity="0.85"/>
<line x1="465.79" y1="364.00" x2="465.79" y2="366.00" stroke="#ffffff" stroke-width="0.9" opacity="0.85"/>
<line x1="468.15" y1="364.00" x2="468.15" y2="366.00" stroke="#ffffff" stroke-width="0.9" opacity="0.85"/>
<line x1="470.51" y1="364.00" x2="470.51" y2="366.00" stroke="#ffffff" stroke-width="0.9" opacity="0.85"/>
<line x1="472.87" y1="364.00" x2="472.87" y2="366.00" stroke="#ffffff" stroke-width="0.9" opacity="0.85"/>
<line x1="475.22" y1="364.00" x2="475.22" y2="366.00" stroke="#ffffff" stroke-width="0.9" opacity="0.85"/>
<line x1="477.58" y1="364.00" x2="477.58" y2="366.00" stroke="#ffffff" stroke-width="0.9" opacity="0.85"/>
<line x1="479.94" y1="364.00" x2="479.94" y2="366.00" stroke="#ffffff" stroke-width="0.9" opacity="0.85"/>
<line x1="482.30" y1="364.00" x2="482.30" y2="366.00" stroke="#ffffff" stroke-width="0.9" opacity="0.85"/>
<line x1="484.66" y1="364.00" x2="484.66" y2="366.00" stroke="#ffffff" stroke-width="0.9" opacity="0.85"/>
<line x1="487.01" y1="364.00" x2="487.01" y2="366.00" stroke="#ffffff" stroke-width="0.9" opacity="0.85"/>
<line x1="489.37" y1="364.00" x2="489.37" y2="366.00" stroke="#ffffff" stroke-width="0.9" opacity="0.85"/>
<line x1="491.73" y1="364.00" x2="491.73" y2="366.00" stroke="#ffffff" stroke-width="0.9" opacity="0.85"/>
<line x1="494.09" y1="364.00" x2="494.09" y2="366.00" stroke="#ffffff" stroke-width="0.9" opacity="0.85"/>
<line x1="496.44" y1="364.00" x2="496.44" y2="366.00" stroke="#ffffff" stroke-width="0.9" opacity="0.85"/>
<line x1="498.80" y1="364.00" x2="498.80" y2="366.00" stroke="#ffffff" stroke-width="0.9" opacity="0.85"/>
<line x1="501.16" y1="364.00" x2="501.16" y2="366.00" stroke="#ffffff" stroke-width="0.9" opacity="0.85"/>
<line x1="503.52" y1="364.00" x2="503.52" y2="366.00" stroke="#ffffff" stroke-width="0.9" opacity="0.85"/>
<line x1="505.88" y1="364.00" x2="505.88" y2="366.00" stroke="#ffffff" stroke-width="0.9" opacity="0.85"/>
<line x1="508.23" y1="364.00" x2="508.23" y2="366.00" stroke="#ffffff" stroke-width="0.9" opacity="0.85"/>
<line x1="510.59" y1="364.00" x2="510.59" y2="366.00" stroke="#ffffff" stroke-width="0.9" opacity="0.85"/>
<line x1="512.95" y1="364.00" x2="512.95" y2="366.00" stroke="#ffffff" stroke-width="0.9" opacity="0.85"/>
<line x1="515.31" y1="364.00" x2="515.31" y2="366.00" stroke="#ffffff" stroke-width="0.9" opacity="0.85"/>
<line x1="517.66" y1="364.00" x2="517.66" y2="366.00" stroke="#ffffff" stroke-width="0.9" opacity="0.85"/>
<line x1="520.02" y1="364.00" x2="520.02" y2="366.00" stroke="#ffffff" stroke-width="0.9" opacity="0.85"/>
<rect x="540.90" y="363.90" width="10.50" height="1.80" fill="#8cc6ea" opacity="0.28"/>
<rect x="540.90" y="363.10" width="10.50" height="0.95" fill="#c43a3a"/>
<rect x="540.90" y="365.55" width="10.50" height="0.95" fill="#8cc6ea"/>
<rect x="551.40" y="363.90" width="4.40" height="1.80" fill="#7a6fb0" opacity="0.41"/>
<rect x="551.40" y="363.10" width="4.40" height="0.95" fill="#7a6fb0"/>
<rect x="551.40" y="365.55" width="4.40" height="0.95" fill="#7a6fb0"/>
<rect x="555.80" y="363.90" width="31.00" height="1.80" fill="#8cc6ea" opacity="0.30"/>
<rect x="555.80" y="363.10" width="31.00" height="0.95" fill="#2f6aa6"/>
<rect x="555.80" y="365.55" width="31.00" height="0.95" fill="#8cc6ea"/>
<rect x="586.80" y="363.90" width="4.40" height="1.80" fill="#e05050" opacity="0.41"/>
<rect x="586.80" y="363.10" width="4.40" height="0.95" fill="#e05050"/>
<rect x="586.80" y="365.55" width="4.40" height="0.95" fill="#e05050"/>
<rect x="591.20" y="363.90" width="10.50" height="1.80" fill="#8cc6ea" opacity="0.28"/>
<rect x="591.20" y="363.10" width="10.50" height="0.95" fill="#c43a3a"/>
<rect x="591.20" y="365.55" width="10.50" height="0.95" fill="#8cc6ea"/>
<line x1="542.07" y1="363.80" x2="542.07" y2="365.80" stroke="#ffffff" stroke-width="0.9" opacity="0.85"/>
<line x1="544.41" y1="363.80" x2="544.41" y2="365.80" stroke="#ffffff" stroke-width="0.9" opacity="0.85"/>
<line x1="546.75" y1="363.80" x2="546.75" y2="365.80" stroke="#ffffff" stroke-width="0.9" opacity="0.85"/>
<line x1="549.08" y1="363.80" x2="549.08" y2="365.80" stroke="#ffffff" stroke-width="0.9" opacity="0.85"/>
<line x1="551.42" y1="363.80" x2="551.42" y2="365.80" stroke="#ffffff" stroke-width="0.9" opacity="0.85"/>
<line x1="553.76" y1="363.80" x2="553.76" y2="365.80" stroke="#ffffff" stroke-width="0.9" opacity="0.85"/>
<line x1="556.10" y1="363.80" x2="556.10" y2="365.80" stroke="#ffffff" stroke-width="0.9" opacity="0.85"/>
<line x1="558.44" y1="363.80" x2="558.44" y2="365.80" stroke="#ffffff" stroke-width="0.9" opacity="0.85"/>
<line x1="560.78" y1="363.80" x2="560.78" y2="365.80" stroke="#ffffff" stroke-width="0.9" opacity="0.85"/>
<line x1="563.12" y1="363.80" x2="563.12" y2="365.80" stroke="#ffffff" stroke-width="0.9" opacity="0.85"/>
<line x1="565.45" y1="363.80" x2="565.45" y2="365.80" stroke="#ffffff" stroke-width="0.9" opacity="0.85"/>
<line x1="567.79" y1="363.80" x2="567.79" y2="365.80" stroke="#ffffff" stroke-width="0.9" opacity="0.85"/>
<line x1="570.13" y1="363.80" x2="570.13" y2="365.80" stroke="#ffffff" stroke-width="0.9" opacity="0.85"/>
<line x1="572.47" y1="363.80" x2="572.47" y2="365.80" stroke="#ffffff" stroke-width="0.9" opacity="0.85"/>
<line x1="574.81" y1="363.80" x2="574.81" y2="365.80" stroke="#ffffff" stroke-width="0.9" opacity="0.85"/>
<line x1="577.15" y1="363.80" x2="577.15" y2="365.80" stroke="#ffffff" stroke-width="0.9" opacity="0.85"/>
<line x1="579.48" y1="363.80" x2="579.48" y2="365.80" stroke="#ffffff" stroke-width="0.9" opacity="0.85"/>
<line x1="581.82" y1="363.80" x2="581.82" y2="365.80" stroke="#ffffff" stroke-width="0.9" opacity="0.85"/>
<line x1="584.16" y1="363.80" x2="584.16" y2="365.80" stroke="#ffffff" stroke-width="0.9" opacity="0.85"/>
<line x1="586.50" y1="363.80" x2="586.50" y2="365.80" stroke="#ffffff" stroke-width="0.9" opacity="0.85"/>
<line x1="588.84" y1="363.80" x2="588.84" y2="365.80" stroke="#ffffff" stroke-width="0.9" opacity="0.85"/>
<line x1="591.18" y1="363.80" x2="591.18" y2="365.80" stroke="#ffffff" stroke-width="0.9" opacity="0.85"/>
<line x1="593.52" y1="363.80" x2="593.52" y2="365.80" stroke="#ffffff" stroke-width="0.9" opacity="0.85"/>
<line x1="595.85" y1="363.80" x2="595.85" y2="365.80" stroke="#ffffff" stroke-width="0.9" opacity="0.85"/>
<line x1="598.19" y1="363.80" x2="598.19" y2="365.80" stroke="#ffffff" stroke-width="0.9" opacity="0.85"/>
<line x1="600.53" y1="363.80" x2="600.53" y2="365.80" stroke="#ffffff" stroke-width="0.9" opacity="0.85"/>
<rect x="508.60" y="373.10" width="10.50" height="1.80" fill="#c4abdb" opacity="0.28"/>
<rect x="508.60" y="372.30" width="10.50" height="0.95" fill="#b396cc"/>
<rect x="508.60" y="374.75" width="10.50" height="0.95" fill="#c4abdb"/>
<rect x="519.10" y="373.10" width="4.40" height="1.80" fill="#c9a8d8" opacity="0.41"/>
<rect x="519.10" y="372.30" width="4.40" height="0.95" fill="#c9a8d8"/>
<rect x="519.10" y="374.75" width="4.40" height="0.95" fill="#c9a8d8"/>
<rect x="523.50" y="373.10" width="30.40" height="1.80" fill="#8fcdf0" opacity="0.30"/>
<rect x="523.50" y="372.30" width="30.40" height="0.95" fill="#7fb8e4"/>
<rect x="523.50" y="374.75" width="30.40" height="0.95" fill="#8fcdf0"/>
<rect x="553.90" y="373.10" width="4.40" height="1.80" fill="#c8a890" opacity="0.41"/>
<rect x="553.90" y="372.30" width="4.40" height="0.95" fill="#c8a890"/>
<rect x="553.90" y="374.75" width="4.40" height="0.95" fill="#c8a890"/>
<rect x="558.30" y="373.10" width="10.50" height="1.80" fill="#c4abdb" opacity="0.28"/>
<rect x="558.30" y="372.30" width="10.50" height="0.95" fill="#b396cc"/>
<rect x="558.30" y="374.75" width="10.50" height="0.95" fill="#c4abdb"/>
<line x1="509.76" y1="373.00" x2="509.76" y2="375.00" stroke="#ffffff" stroke-width="0.9" opacity="0.85"/>
<line x1="512.07" y1="373.00" x2="512.07" y2="375.00" stroke="#ffffff" stroke-width="0.9" opacity="0.85"/>
<line x1="514.39" y1="373.00" x2="514.39" y2="375.00" stroke="#ffffff" stroke-width="0.9" opacity="0.85"/>
<line x1="516.70" y1="373.00" x2="516.70" y2="375.00" stroke="#ffffff" stroke-width="0.9" opacity="0.85"/>
<line x1="519.02" y1="373.00" x2="519.02" y2="375.00" stroke="#ffffff" stroke-width="0.9" opacity="0.85"/>
<line x1="521.33" y1="373.00" x2="521.33" y2="375.00" stroke="#ffffff" stroke-width="0.9" opacity="0.85"/>
<line x1="523.65" y1="373.00" x2="523.65" y2="375.00" stroke="#ffffff" stroke-width="0.9" opacity="0.85"/>
<line x1="525.97" y1="373.00" x2="525.97" y2="375.00" stroke="#ffffff" stroke-width="0.9" opacity="0.85"/>
<line x1="528.28" y1="373.00" x2="528.28" y2="375.00" stroke="#ffffff" stroke-width="0.9" opacity="0.85"/>
<line x1="530.60" y1="373.00" x2="530.60" y2="375.00" stroke="#ffffff" stroke-width="0.9" opacity="0.85"/>
<line x1="532.91" y1="373.00" x2="532.91" y2="375.00" stroke="#ffffff" stroke-width="0.9" opacity="0.85"/>
<line x1="535.23" y1="373.00" x2="535.23" y2="375.00" stroke="#ffffff" stroke-width="0.9" opacity="0.85"/>
<line x1="537.54" y1="373.00" x2="537.54" y2="375.00" stroke="#ffffff" stroke-width="0.9" opacity="0.85"/>
<line x1="539.86" y1="373.00" x2="539.86" y2="375.00" stroke="#ffffff" stroke-width="0.9" opacity="0.85"/>
<line x1="542.17" y1="373.00" x2="542.17" y2="375.00" stroke="#ffffff" stroke-width="0.9" opacity="0.85"/>
<line x1="544.49" y1="373.00" x2="544.49" y2="375.00" stroke="#ffffff" stroke-width="0.9" opacity="0.85"/>
<line x1="546.80" y1="373.00" x2="546.80" y2="375.00" stroke="#ffffff" stroke-width="0.9" opacity="0.85"/>
<line x1="549.12" y1="373.00" x2="549.12" y2="375.00" stroke="#ffffff" stroke-width="0.9" opacity="0.85"/>
<line x1="551.43" y1="373.00" x2="551.43" y2="375.00" stroke="#ffffff" stroke-width="0.9" opacity="0.85"/>
<line x1="553.75" y1="373.00" x2="553.75" y2="375.00" stroke="#ffffff" stroke-width="0.9" opacity="0.85"/>
<line x1="556.07" y1="373.00" x2="556.07" y2="375.00" stroke="#ffffff" stroke-width="0.9" opacity="0.85"/>
<line x1="558.38" y1="373.00" x2="558.38" y2="375.00" stroke="#ffffff" stroke-width="0.9" opacity="0.85"/>
<line x1="560.70" y1="373.00" x2="560.70" y2="375.00" stroke="#ffffff" stroke-width="0.9" opacity="0.85"/>
<line x1="563.01" y1="373.00" x2="563.01" y2="375.00" stroke="#ffffff" stroke-width="0.9" opacity="0.85"/>
<line x1="565.33" y1="373.00" x2="565.33" y2="375.00" stroke="#ffffff" stroke-width="0.9" opacity="0.85"/>
<line x1="567.64" y1="373.00" x2="567.64" y2="375.00" stroke="#ffffff" stroke-width="0.9" opacity="0.85"/>
<defs><linearGradient id="sq1" x1="0" y1="0" x2="1" y2="0"><stop offset="0" stop-color="#606062"/><stop offset="0.35" stop-color="#48484a"/><stop offset="1" stop-color="#434345"/></linearGradient><linearGradient id="sq2" x1="0" y1="0" x2="1" y2="1"><stop offset="0" stop-color="#ffffff"/><stop offset="1" stop-color="#e6e7e8"/></linearGradient><linearGradient id="sq3" x1="0" y1="0" x2="0" y2="1"><stop offset="0" stop-color="#f1f4f7"/><stop offset="1" stop-color="#dfe5ec"/></linearGradient></defs>
<path d="M405.1 346.1 L417.2 346.1 Q418.2 346.1 418.2 347.1 L418.2 372.0 L405.1 372.0 Z" fill="#e4e9ee"/>
<rect x="416.7" y="346.6" width="1.5" height="25.4" fill="#cfd6dc"/>
<path d="M397.4 346.0 L405.1 346.0 L405.1 373.7 L398.1 373.7 L398.1 355.5 L396.6 355.5 Z" fill="url(#sq1)"/>
<rect x="377.5" y="357.1" width="20.7" height="7.4" fill="url(#sq3)"/>
<rect x="377.5" y="364.2" width="4.1" height="5.8" fill="#dde3e9"/>
<path d="M381.4 364.5 L398.2 364.5 L398.2 373.7 L382.6 373.7 Q381.4 373.7 381.4 372.5 Z" fill="#4a4a4c"/>
<rect x="382.3" y="346.3" width="15.0" height="9.0" fill="#c9cbce"/>
<rect x="383.1" y="347.1" width="13.9" height="7.8" fill="url(#sq2)"/>
<path d="M382.7 355.3 L382.7 346.7 L397.3 346.7" fill="none" stroke="#3e3f42" stroke-width="0.9"/>
<rect x="391.0" y="355.8" width="7.2" height="0.9" fill="#4a4a4c"/>
<rect x="405.1" y="355.8" width="9.6" height="0.9" fill="#2a7080"/>
<rect x="415.2" y="370.1" width="2.3" height="0.9" fill="#333"/>
<path d="M296.9 345.3 L306.6 348.2 L306.6 370.7 L296.9 372.8 Z" fill="#8a8a8a"/>
<rect x="285.2" y="345.2" width="11.8" height="27.6" fill="#a4a4a4"/>
<rect x="286.2" y="346.4" width="9.8" height="4.0" fill="#7c7c7c"/>
<rect x="286.2" y="351.2" width="9.8" height="2.0" fill="#b6b6b6"/>
<rect x="286.2" y="354.0" width="9.8" height="3.0" fill="#828282"/>
<rect x="286.2" y="357.6" width="9.8" height="6.2" fill="#adadad"/>
<rect x="286.2" y="364.4" width="9.8" height="7.6" fill="#989898"/>
<circle cx="290.8" cy="368.2" r="1.2" fill="#e8e8e8"/>
<defs><linearGradient id="scr" x1="0" y1="0" x2="1" y2="1"><stop offset="0" stop-color="#dddbdb"/><stop offset="0.56" stop-color="#e4e2e2"/><stop offset="0.6" stop-color="#f7f7f7"/><stop offset="1" stop-color="#ffffff"/></linearGradient></defs>
<rect x="302.9" y="352.3" width="30.4" height="15.0" fill="url(#scr)" stroke="#3a3a3a" stroke-width="1.2"/>
<rect x="316.3" y="367.8" width="2.6" height="4.6" fill="#555"/>
<path d="M312.3 373.9 L322.6 373.9 L320.6 372.2 L314.3 372.2 Z" fill="#555"/>
</svg>
</body></html>
